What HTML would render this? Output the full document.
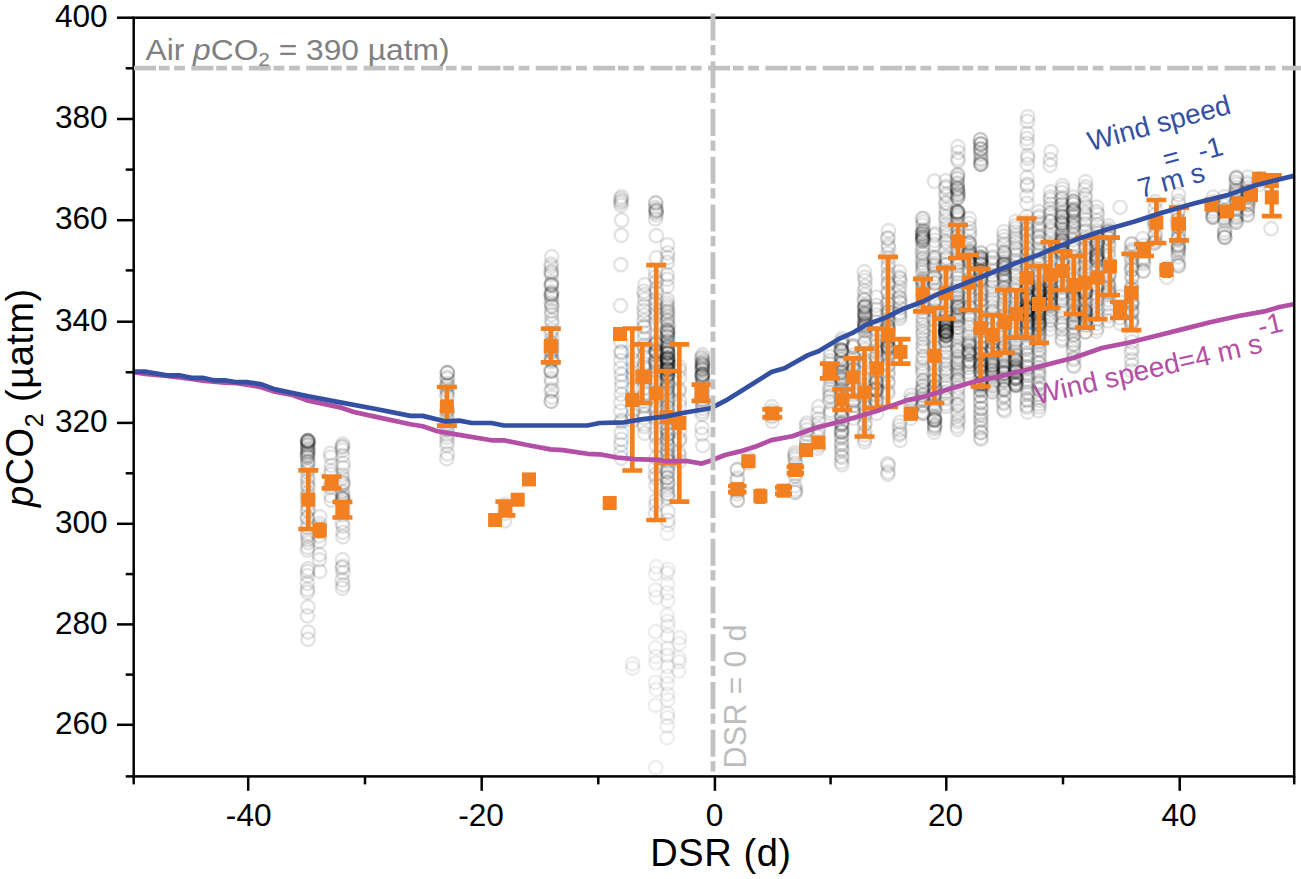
<!DOCTYPE html>
<html><head><meta charset="utf-8"><title>pCO2 vs DSR</title>
<style>html,body{margin:0;padding:0;background:#fff}svg{display:block}text{font-family:"Liberation Sans",Arial,sans-serif}</style></head><body>
<svg width="1301" height="879" viewBox="0 0 1301 879">
<rect width="1301" height="879" fill="#fff"/>
<g fill="none" stroke="#000" stroke-opacity="0.115" stroke-width="2.3">
<circle cx="307.5" cy="441.7" r="6.7"/>
<circle cx="307.5" cy="457.4" r="6.7"/>
<circle cx="307.3" cy="446.1" r="6.7"/>
<circle cx="308.2" cy="448.7" r="6.7"/>
<circle cx="307.9" cy="452.9" r="6.7"/>
<circle cx="307.3" cy="454.0" r="6.7"/>
<circle cx="307.3" cy="456.6" r="6.7"/>
<circle cx="307.4" cy="449.0" r="6.7"/>
<circle cx="307.8" cy="461.5" r="6.7"/>
<circle cx="307.8" cy="464.4" r="6.7"/>
<circle cx="308.0" cy="461.9" r="6.7"/>
<circle cx="307.8" cy="468.6" r="6.7"/>
<circle cx="307.4" cy="471.4" r="6.7"/>
<circle cx="307.9" cy="442.3" r="6.7"/>
<circle cx="307.8" cy="477.4" r="6.7"/>
<circle cx="307.7" cy="480.6" r="6.7"/>
<circle cx="308.2" cy="440.7" r="6.7"/>
<circle cx="307.5" cy="484.9" r="6.7"/>
<circle cx="308.1" cy="487.1" r="6.7"/>
<circle cx="307.8" cy="455.4" r="6.7"/>
<circle cx="307.7" cy="492.7" r="6.7"/>
<circle cx="307.3" cy="495.9" r="6.7"/>
<circle cx="307.8" cy="451.4" r="6.7"/>
<circle cx="307.6" cy="500.1" r="6.7"/>
<circle cx="307.7" cy="504.6" r="6.7"/>
<circle cx="307.8" cy="451.0" r="6.7"/>
<circle cx="308.1" cy="509.5" r="6.7"/>
<circle cx="307.6" cy="511.0" r="6.7"/>
<circle cx="307.8" cy="444.9" r="6.7"/>
<circle cx="307.3" cy="517.3" r="6.7"/>
<circle cx="307.5" cy="518.3" r="6.7"/>
<circle cx="308.0" cy="444.6" r="6.7"/>
<circle cx="307.9" cy="524.0" r="6.7"/>
<circle cx="307.7" cy="527.5" r="6.7"/>
<circle cx="308.0" cy="441.8" r="6.7"/>
<circle cx="307.6" cy="533.3" r="6.7"/>
<circle cx="307.6" cy="536.0" r="6.7"/>
<circle cx="307.5" cy="440.7" r="6.7"/>
<circle cx="308.0" cy="539.7" r="6.7"/>
<circle cx="308.2" cy="542.6" r="6.7"/>
<circle cx="307.8" cy="440.7" r="6.7"/>
<circle cx="307.7" cy="547.3" r="6.7"/>
<circle cx="307.4" cy="550.2" r="6.7"/>
<circle cx="308.0" cy="440.7" r="6.7"/>
<circle cx="308.0" cy="568.9" r="6.7"/>
<circle cx="307.5" cy="571.5" r="6.7"/>
<circle cx="307.4" cy="575.5" r="6.7"/>
<circle cx="307.3" cy="583.4" r="6.7"/>
<circle cx="307.5" cy="589.5" r="6.7"/>
<circle cx="307.4" cy="592.3" r="6.7"/>
<circle cx="307.9" cy="607.0" r="6.7"/>
<circle cx="307.4" cy="615.8" r="6.7"/>
<circle cx="308.2" cy="632.0" r="6.7"/>
<circle cx="308.0" cy="639.3" r="6.7"/>
<circle cx="319.8" cy="516.7" r="6.7"/>
<circle cx="319.6" cy="523.7" r="6.7"/>
<circle cx="319.3" cy="526.8" r="6.7"/>
<circle cx="319.4" cy="531.0" r="6.7"/>
<circle cx="319.1" cy="535.9" r="6.7"/>
<circle cx="319.3" cy="541.3" r="6.7"/>
<circle cx="319.5" cy="554.7" r="6.7"/>
<circle cx="319.4" cy="559.8" r="6.7"/>
<circle cx="319.8" cy="571.3" r="6.7"/>
<circle cx="330.6" cy="453.3" r="6.7"/>
<circle cx="330.9" cy="457.1" r="6.7"/>
<circle cx="331.4" cy="465.3" r="6.7"/>
<circle cx="331.0" cy="471.1" r="6.7"/>
<circle cx="331.0" cy="474.4" r="6.7"/>
<circle cx="331.0" cy="485.0" r="6.7"/>
<circle cx="330.6" cy="487.4" r="6.7"/>
<circle cx="331.2" cy="495.7" r="6.7"/>
<circle cx="331.2" cy="500.2" r="6.7"/>
<circle cx="342.8" cy="444.0" r="6.7"/>
<circle cx="342.4" cy="498.6" r="6.7"/>
<circle cx="342.3" cy="450.1" r="6.7"/>
<circle cx="342.6" cy="455.5" r="6.7"/>
<circle cx="342.3" cy="447.2" r="6.7"/>
<circle cx="343.1" cy="463.5" r="6.7"/>
<circle cx="342.9" cy="467.6" r="6.7"/>
<circle cx="342.9" cy="482.6" r="6.7"/>
<circle cx="342.3" cy="475.1" r="6.7"/>
<circle cx="342.4" cy="478.3" r="6.7"/>
<circle cx="342.4" cy="497.7" r="6.7"/>
<circle cx="342.8" cy="485.2" r="6.7"/>
<circle cx="342.5" cy="491.7" r="6.7"/>
<circle cx="343.0" cy="495.1" r="6.7"/>
<circle cx="343.0" cy="499.7" r="6.7"/>
<circle cx="342.3" cy="501.4" r="6.7"/>
<circle cx="342.3" cy="446.3" r="6.7"/>
<circle cx="343.0" cy="510.2" r="6.7"/>
<circle cx="342.6" cy="514.9" r="6.7"/>
<circle cx="342.7" cy="503.8" r="6.7"/>
<circle cx="342.2" cy="522.7" r="6.7"/>
<circle cx="343.0" cy="526.1" r="6.7"/>
<circle cx="342.6" cy="498.3" r="6.7"/>
<circle cx="342.9" cy="532.3" r="6.7"/>
<circle cx="342.9" cy="536.8" r="6.7"/>
<circle cx="343.1" cy="483.1" r="6.7"/>
<circle cx="342.5" cy="559.7" r="6.7"/>
<circle cx="342.8" cy="566.3" r="6.7"/>
<circle cx="342.2" cy="567.9" r="6.7"/>
<circle cx="343.0" cy="572.6" r="6.7"/>
<circle cx="342.2" cy="580.0" r="6.7"/>
<circle cx="343.1" cy="584.9" r="6.7"/>
<circle cx="342.4" cy="588.3" r="6.7"/>
<circle cx="447.4" cy="372.7" r="6.7"/>
<circle cx="447.0" cy="395.3" r="6.7"/>
<circle cx="446.9" cy="377.3" r="6.7"/>
<circle cx="447.4" cy="378.9" r="6.7"/>
<circle cx="446.6" cy="385.8" r="6.7"/>
<circle cx="447.4" cy="383.4" r="6.7"/>
<circle cx="447.4" cy="385.3" r="6.7"/>
<circle cx="447.4" cy="372.7" r="6.7"/>
<circle cx="446.7" cy="388.5" r="6.7"/>
<circle cx="447.4" cy="391.2" r="6.7"/>
<circle cx="447.3" cy="372.7" r="6.7"/>
<circle cx="447.3" cy="395.3" r="6.7"/>
<circle cx="447.1" cy="408.7" r="6.7"/>
<circle cx="446.6" cy="429.6" r="6.7"/>
<circle cx="446.8" cy="417.0" r="6.7"/>
<circle cx="447.3" cy="420.0" r="6.7"/>
<circle cx="447.0" cy="411.9" r="6.7"/>
<circle cx="447.3" cy="429.2" r="6.7"/>
<circle cx="447.0" cy="434.5" r="6.7"/>
<circle cx="447.0" cy="437.4" r="6.7"/>
<circle cx="447.0" cy="441.8" r="6.7"/>
<circle cx="447.0" cy="445.2" r="6.7"/>
<circle cx="447.5" cy="410.2" r="6.7"/>
<circle cx="447.4" cy="453.9" r="6.7"/>
<circle cx="446.8" cy="458.8" r="6.7"/>
<circle cx="447.4" cy="423.5" r="6.7"/>
<circle cx="504.7" cy="504.7" r="6.7"/>
<circle cx="504.6" cy="513.5" r="6.7"/>
<circle cx="504.6" cy="521.0" r="6.7"/>
<circle cx="551.7" cy="256.7" r="6.7"/>
<circle cx="551.1" cy="357.2" r="6.7"/>
<circle cx="551.1" cy="264.2" r="6.7"/>
<circle cx="551.2" cy="266.8" r="6.7"/>
<circle cx="551.4" cy="294.4" r="6.7"/>
<circle cx="551.3" cy="272.5" r="6.7"/>
<circle cx="551.3" cy="274.8" r="6.7"/>
<circle cx="551.3" cy="271.4" r="6.7"/>
<circle cx="551.7" cy="282.3" r="6.7"/>
<circle cx="551.5" cy="285.3" r="6.7"/>
<circle cx="551.1" cy="343.3" r="6.7"/>
<circle cx="551.2" cy="293.3" r="6.7"/>
<circle cx="551.1" cy="296.3" r="6.7"/>
<circle cx="551.3" cy="401.3" r="6.7"/>
<circle cx="551.2" cy="302.9" r="6.7"/>
<circle cx="551.8" cy="305.6" r="6.7"/>
<circle cx="551.9" cy="306.6" r="6.7"/>
<circle cx="551.5" cy="311.1" r="6.7"/>
<circle cx="551.5" cy="314.6" r="6.7"/>
<circle cx="551.3" cy="284.7" r="6.7"/>
<circle cx="551.8" cy="320.3" r="6.7"/>
<circle cx="551.9" cy="323.3" r="6.7"/>
<circle cx="551.1" cy="349.5" r="6.7"/>
<circle cx="551.6" cy="329.9" r="6.7"/>
<circle cx="551.2" cy="333.0" r="6.7"/>
<circle cx="551.1" cy="371.5" r="6.7"/>
<circle cx="552.0" cy="338.8" r="6.7"/>
<circle cx="551.9" cy="343.2" r="6.7"/>
<circle cx="551.7" cy="299.0" r="6.7"/>
<circle cx="551.9" cy="351.1" r="6.7"/>
<circle cx="551.2" cy="352.4" r="6.7"/>
<circle cx="551.9" cy="291.8" r="6.7"/>
<circle cx="551.5" cy="359.9" r="6.7"/>
<circle cx="551.4" cy="361.9" r="6.7"/>
<circle cx="551.8" cy="346.4" r="6.7"/>
<circle cx="551.0" cy="370.6" r="6.7"/>
<circle cx="551.5" cy="371.0" r="6.7"/>
<circle cx="552.0" cy="359.6" r="6.7"/>
<circle cx="551.2" cy="378.8" r="6.7"/>
<circle cx="551.6" cy="381.9" r="6.7"/>
<circle cx="551.5" cy="294.5" r="6.7"/>
<circle cx="552.0" cy="389.6" r="6.7"/>
<circle cx="551.2" cy="391.1" r="6.7"/>
<circle cx="551.2" cy="284.9" r="6.7"/>
<circle cx="551.9" cy="397.2" r="6.7"/>
<circle cx="551.1" cy="401.3" r="6.7"/>
<circle cx="621.6" cy="196.8" r="6.7"/>
<circle cx="620.6" cy="198.9" r="6.7"/>
<circle cx="621.5" cy="200.8" r="6.7"/>
<circle cx="620.7" cy="202.7" r="6.7"/>
<circle cx="621.0" cy="205.3" r="6.7"/>
<circle cx="621.6" cy="220.1" r="6.7"/>
<circle cx="621.3" cy="235.3" r="6.7"/>
<circle cx="620.8" cy="264.7" r="6.7"/>
<circle cx="620.6" cy="305.7" r="6.7"/>
<circle cx="620.9" cy="341.7" r="6.7"/>
<circle cx="620.9" cy="351.6" r="6.7"/>
<circle cx="621.5" cy="352.5" r="6.7"/>
<circle cx="620.8" cy="360.5" r="6.7"/>
<circle cx="620.7" cy="368.1" r="6.7"/>
<circle cx="621.3" cy="374.6" r="6.7"/>
<circle cx="621.4" cy="381.3" r="6.7"/>
<circle cx="621.4" cy="387.1" r="6.7"/>
<circle cx="621.2" cy="394.3" r="6.7"/>
<circle cx="620.9" cy="402.8" r="6.7"/>
<circle cx="620.7" cy="411.1" r="6.7"/>
<circle cx="621.5" cy="420.0" r="6.7"/>
<circle cx="621.5" cy="421.8" r="6.7"/>
<circle cx="621.2" cy="432.7" r="6.7"/>
<circle cx="621.3" cy="439.4" r="6.7"/>
<circle cx="620.9" cy="444.5" r="6.7"/>
<circle cx="620.8" cy="452.2" r="6.7"/>
<circle cx="621.3" cy="458.3" r="6.7"/>
<circle cx="632.6" cy="351.8" r="6.7"/>
<circle cx="632.7" cy="360.1" r="6.7"/>
<circle cx="633.0" cy="368.6" r="6.7"/>
<circle cx="633.0" cy="373.6" r="6.7"/>
<circle cx="632.9" cy="377.3" r="6.7"/>
<circle cx="632.9" cy="389.4" r="6.7"/>
<circle cx="632.9" cy="397.5" r="6.7"/>
<circle cx="632.3" cy="399.2" r="6.7"/>
<circle cx="633.2" cy="409.8" r="6.7"/>
<circle cx="632.7" cy="415.4" r="6.7"/>
<circle cx="632.2" cy="420.5" r="6.7"/>
<circle cx="644.8" cy="284.7" r="6.7"/>
<circle cx="643.9" cy="291.4" r="6.7"/>
<circle cx="644.6" cy="294.7" r="6.7"/>
<circle cx="644.6" cy="299.4" r="6.7"/>
<circle cx="644.1" cy="306.1" r="6.7"/>
<circle cx="644.1" cy="310.6" r="6.7"/>
<circle cx="644.3" cy="315.1" r="6.7"/>
<circle cx="643.9" cy="320.9" r="6.7"/>
<circle cx="644.1" cy="326.2" r="6.7"/>
<circle cx="644.5" cy="327.2" r="6.7"/>
<circle cx="644.4" cy="332.9" r="6.7"/>
<circle cx="644.5" cy="338.4" r="6.7"/>
<circle cx="644.4" cy="345.0" r="6.7"/>
<circle cx="644.3" cy="347.4" r="6.7"/>
<circle cx="644.8" cy="354.0" r="6.7"/>
<circle cx="644.0" cy="357.2" r="6.7"/>
<circle cx="644.5" cy="363.9" r="6.7"/>
<circle cx="644.3" cy="367.9" r="6.7"/>
<circle cx="644.8" cy="375.1" r="6.7"/>
<circle cx="644.1" cy="379.0" r="6.7"/>
<circle cx="644.3" cy="381.9" r="6.7"/>
<circle cx="643.9" cy="387.8" r="6.7"/>
<circle cx="644.8" cy="393.7" r="6.7"/>
<circle cx="644.2" cy="400.8" r="6.7"/>
<circle cx="644.8" cy="405.5" r="6.7"/>
<circle cx="643.9" cy="406.6" r="6.7"/>
<circle cx="644.1" cy="414.6" r="6.7"/>
<circle cx="644.4" cy="417.8" r="6.7"/>
<circle cx="644.1" cy="424.0" r="6.7"/>
<circle cx="644.2" cy="426.6" r="6.7"/>
<circle cx="644.7" cy="433.3" r="6.7"/>
<circle cx="655.7" cy="202.7" r="6.7"/>
<circle cx="656.2" cy="211.2" r="6.7"/>
<circle cx="655.5" cy="207.5" r="6.7"/>
<circle cx="656.1" cy="209.8" r="6.7"/>
<circle cx="656.3" cy="210.4" r="6.7"/>
<circle cx="655.8" cy="212.7" r="6.7"/>
<circle cx="656.4" cy="214.9" r="6.7"/>
<circle cx="655.9" cy="203.2" r="6.7"/>
<circle cx="655.5" cy="218.9" r="6.7"/>
<circle cx="656.3" cy="235.7" r="6.7"/>
<circle cx="656.4" cy="257.7" r="6.7"/>
<circle cx="655.7" cy="271.7" r="6.7"/>
<circle cx="655.6" cy="276.9" r="6.7"/>
<circle cx="656.4" cy="281.5" r="6.7"/>
<circle cx="656.2" cy="288.9" r="6.7"/>
<circle cx="656.3" cy="292.9" r="6.7"/>
<circle cx="656.0" cy="299.5" r="6.7"/>
<circle cx="655.5" cy="303.6" r="6.7"/>
<circle cx="655.9" cy="308.9" r="6.7"/>
<circle cx="656.1" cy="314.1" r="6.7"/>
<circle cx="655.5" cy="317.2" r="6.7"/>
<circle cx="655.6" cy="323.3" r="6.7"/>
<circle cx="655.9" cy="336.7" r="6.7"/>
<circle cx="656.1" cy="351.6" r="6.7"/>
<circle cx="656.1" cy="341.7" r="6.7"/>
<circle cx="655.9" cy="344.6" r="6.7"/>
<circle cx="655.9" cy="363.3" r="6.7"/>
<circle cx="656.2" cy="351.4" r="6.7"/>
<circle cx="656.0" cy="354.6" r="6.7"/>
<circle cx="655.7" cy="343.6" r="6.7"/>
<circle cx="656.0" cy="360.0" r="6.7"/>
<circle cx="655.8" cy="363.4" r="6.7"/>
<circle cx="655.4" cy="360.5" r="6.7"/>
<circle cx="655.8" cy="370.9" r="6.7"/>
<circle cx="655.6" cy="373.6" r="6.7"/>
<circle cx="655.7" cy="350.1" r="6.7"/>
<circle cx="655.9" cy="379.7" r="6.7"/>
<circle cx="655.8" cy="382.2" r="6.7"/>
<circle cx="656.2" cy="351.9" r="6.7"/>
<circle cx="655.5" cy="389.0" r="6.7"/>
<circle cx="655.8" cy="392.2" r="6.7"/>
<circle cx="656.1" cy="344.1" r="6.7"/>
<circle cx="655.7" cy="397.0" r="6.7"/>
<circle cx="656.4" cy="401.0" r="6.7"/>
<circle cx="656.2" cy="366.3" r="6.7"/>
<circle cx="656.4" cy="407.0" r="6.7"/>
<circle cx="655.5" cy="409.2" r="6.7"/>
<circle cx="656.4" cy="366.6" r="6.7"/>
<circle cx="656.0" cy="416.4" r="6.7"/>
<circle cx="655.9" cy="418.2" r="6.7"/>
<circle cx="655.6" cy="433.7" r="6.7"/>
<circle cx="656.4" cy="437.4" r="6.7"/>
<circle cx="656.3" cy="445.2" r="6.7"/>
<circle cx="656.3" cy="457.6" r="6.7"/>
<circle cx="655.5" cy="467.2" r="6.7"/>
<circle cx="655.4" cy="474.5" r="6.7"/>
<circle cx="656.0" cy="478.0" r="6.7"/>
<circle cx="656.1" cy="485.5" r="6.7"/>
<circle cx="656.1" cy="500.3" r="6.7"/>
<circle cx="655.9" cy="505.3" r="6.7"/>
<circle cx="655.5" cy="513.3" r="6.7"/>
<circle cx="667.5" cy="244.7" r="6.7"/>
<circle cx="667.7" cy="252.9" r="6.7"/>
<circle cx="667.4" cy="257.7" r="6.7"/>
<circle cx="667.3" cy="262.4" r="6.7"/>
<circle cx="667.1" cy="274.6" r="6.7"/>
<circle cx="667.2" cy="279.3" r="6.7"/>
<circle cx="667.2" cy="286.3" r="6.7"/>
<circle cx="667.4" cy="299.7" r="6.7"/>
<circle cx="667.2" cy="341.4" r="6.7"/>
<circle cx="667.2" cy="303.1" r="6.7"/>
<circle cx="667.2" cy="305.9" r="6.7"/>
<circle cx="667.1" cy="329.7" r="6.7"/>
<circle cx="667.4" cy="308.0" r="6.7"/>
<circle cx="667.9" cy="311.2" r="6.7"/>
<circle cx="668.0" cy="353.2" r="6.7"/>
<circle cx="667.2" cy="313.9" r="6.7"/>
<circle cx="667.8" cy="316.7" r="6.7"/>
<circle cx="667.1" cy="311.4" r="6.7"/>
<circle cx="667.4" cy="319.8" r="6.7"/>
<circle cx="667.4" cy="321.2" r="6.7"/>
<circle cx="667.3" cy="358.8" r="6.7"/>
<circle cx="668.0" cy="324.7" r="6.7"/>
<circle cx="668.0" cy="326.2" r="6.7"/>
<circle cx="667.2" cy="359.2" r="6.7"/>
<circle cx="667.9" cy="330.2" r="6.7"/>
<circle cx="667.5" cy="332.7" r="6.7"/>
<circle cx="667.4" cy="373.0" r="6.7"/>
<circle cx="667.2" cy="336.5" r="6.7"/>
<circle cx="667.9" cy="337.4" r="6.7"/>
<circle cx="667.1" cy="363.0" r="6.7"/>
<circle cx="667.8" cy="341.1" r="6.7"/>
<circle cx="667.1" cy="343.5" r="6.7"/>
<circle cx="668.0" cy="363.1" r="6.7"/>
<circle cx="667.8" cy="346.2" r="6.7"/>
<circle cx="667.4" cy="349.1" r="6.7"/>
<circle cx="667.3" cy="359.3" r="6.7"/>
<circle cx="667.6" cy="352.8" r="6.7"/>
<circle cx="667.7" cy="353.5" r="6.7"/>
<circle cx="667.0" cy="353.8" r="6.7"/>
<circle cx="667.9" cy="357.9" r="6.7"/>
<circle cx="668.0" cy="359.5" r="6.7"/>
<circle cx="667.1" cy="368.3" r="6.7"/>
<circle cx="667.5" cy="362.5" r="6.7"/>
<circle cx="668.0" cy="365.4" r="6.7"/>
<circle cx="667.5" cy="350.4" r="6.7"/>
<circle cx="668.0" cy="368.3" r="6.7"/>
<circle cx="667.8" cy="369.6" r="6.7"/>
<circle cx="667.8" cy="365.0" r="6.7"/>
<circle cx="667.8" cy="374.2" r="6.7"/>
<circle cx="667.4" cy="375.7" r="6.7"/>
<circle cx="667.8" cy="352.8" r="6.7"/>
<circle cx="667.2" cy="378.5" r="6.7"/>
<circle cx="667.3" cy="381.4" r="6.7"/>
<circle cx="667.1" cy="370.0" r="6.7"/>
<circle cx="667.6" cy="383.8" r="6.7"/>
<circle cx="668.0" cy="386.1" r="6.7"/>
<circle cx="667.3" cy="388.3" r="6.7"/>
<circle cx="667.1" cy="389.3" r="6.7"/>
<circle cx="667.7" cy="391.8" r="6.7"/>
<circle cx="667.5" cy="331.2" r="6.7"/>
<circle cx="667.4" cy="395.0" r="6.7"/>
<circle cx="667.7" cy="397.4" r="6.7"/>
<circle cx="667.7" cy="357.9" r="6.7"/>
<circle cx="667.9" cy="400.2" r="6.7"/>
<circle cx="667.6" cy="402.3" r="6.7"/>
<circle cx="667.4" cy="331.9" r="6.7"/>
<circle cx="667.2" cy="406.6" r="6.7"/>
<circle cx="667.3" cy="407.6" r="6.7"/>
<circle cx="667.6" cy="374.4" r="6.7"/>
<circle cx="667.4" cy="411.4" r="6.7"/>
<circle cx="667.5" cy="414.2" r="6.7"/>
<circle cx="667.3" cy="381.5" r="6.7"/>
<circle cx="667.7" cy="417.6" r="6.7"/>
<circle cx="667.1" cy="419.7" r="6.7"/>
<circle cx="667.9" cy="333.4" r="6.7"/>
<circle cx="667.1" cy="423.1" r="6.7"/>
<circle cx="667.1" cy="423.9" r="6.7"/>
<circle cx="667.2" cy="362.2" r="6.7"/>
<circle cx="667.6" cy="428.7" r="6.7"/>
<circle cx="667.4" cy="430.4" r="6.7"/>
<circle cx="667.3" cy="368.2" r="6.7"/>
<circle cx="668.0" cy="433.8" r="6.7"/>
<circle cx="667.6" cy="434.5" r="6.7"/>
<circle cx="667.6" cy="347.2" r="6.7"/>
<circle cx="667.4" cy="438.3" r="6.7"/>
<circle cx="667.2" cy="439.9" r="6.7"/>
<circle cx="667.7" cy="357.7" r="6.7"/>
<circle cx="667.0" cy="443.7" r="6.7"/>
<circle cx="667.7" cy="445.7" r="6.7"/>
<circle cx="667.2" cy="376.7" r="6.7"/>
<circle cx="667.2" cy="449.2" r="6.7"/>
<circle cx="667.6" cy="451.8" r="6.7"/>
<circle cx="667.4" cy="364.1" r="6.7"/>
<circle cx="667.7" cy="455.1" r="6.7"/>
<circle cx="667.2" cy="456.1" r="6.7"/>
<circle cx="667.7" cy="360.7" r="6.7"/>
<circle cx="667.3" cy="460.2" r="6.7"/>
<circle cx="668.0" cy="461.9" r="6.7"/>
<circle cx="667.4" cy="351.6" r="6.7"/>
<circle cx="667.9" cy="465.7" r="6.7"/>
<circle cx="667.4" cy="468.4" r="6.7"/>
<circle cx="667.2" cy="374.5" r="6.7"/>
<circle cx="667.2" cy="471.6" r="6.7"/>
<circle cx="667.9" cy="472.2" r="6.7"/>
<circle cx="667.4" cy="335.9" r="6.7"/>
<circle cx="667.5" cy="477.3" r="6.7"/>
<circle cx="667.0" cy="477.9" r="6.7"/>
<circle cx="667.6" cy="369.9" r="6.7"/>
<circle cx="667.9" cy="482.3" r="6.7"/>
<circle cx="667.7" cy="483.2" r="6.7"/>
<circle cx="667.2" cy="347.2" r="6.7"/>
<circle cx="667.6" cy="487.1" r="6.7"/>
<circle cx="667.1" cy="490.0" r="6.7"/>
<circle cx="667.5" cy="370.0" r="6.7"/>
<circle cx="668.0" cy="493.4" r="6.7"/>
<circle cx="667.2" cy="494.2" r="6.7"/>
<circle cx="667.5" cy="393.0" r="6.7"/>
<circle cx="668.0" cy="497.6" r="6.7"/>
<circle cx="667.9" cy="511.7" r="6.7"/>
<circle cx="667.9" cy="520.4" r="6.7"/>
<circle cx="679.1" cy="366.7" r="6.7"/>
<circle cx="679.3" cy="370.7" r="6.7"/>
<circle cx="679.4" cy="377.9" r="6.7"/>
<circle cx="679.1" cy="389.1" r="6.7"/>
<circle cx="679.1" cy="391.5" r="6.7"/>
<circle cx="679.6" cy="400.4" r="6.7"/>
<circle cx="679.5" cy="405.8" r="6.7"/>
<circle cx="679.4" cy="418.1" r="6.7"/>
<circle cx="678.8" cy="423.9" r="6.7"/>
<circle cx="679.1" cy="431.8" r="6.7"/>
<circle cx="679.6" cy="438.6" r="6.7"/>
<circle cx="679.4" cy="440.5" r="6.7"/>
<circle cx="678.7" cy="452.2" r="6.7"/>
<circle cx="679.4" cy="455.5" r="6.7"/>
<circle cx="679.5" cy="461.2" r="6.7"/>
<circle cx="702.6" cy="354.7" r="6.7"/>
<circle cx="702.1" cy="363.1" r="6.7"/>
<circle cx="701.9" cy="358.5" r="6.7"/>
<circle cx="702.8" cy="360.4" r="6.7"/>
<circle cx="702.5" cy="365.9" r="6.7"/>
<circle cx="702.1" cy="363.8" r="6.7"/>
<circle cx="702.7" cy="365.0" r="6.7"/>
<circle cx="702.6" cy="374.3" r="6.7"/>
<circle cx="702.2" cy="368.1" r="6.7"/>
<circle cx="702.0" cy="369.8" r="6.7"/>
<circle cx="702.1" cy="376.5" r="6.7"/>
<circle cx="702.8" cy="373.6" r="6.7"/>
<circle cx="702.4" cy="374.8" r="6.7"/>
<circle cx="702.2" cy="374.4" r="6.7"/>
<circle cx="702.7" cy="379.3" r="6.7"/>
<circle cx="702.7" cy="380.9" r="6.7"/>
<circle cx="702.1" cy="376.8" r="6.7"/>
<circle cx="702.5" cy="383.3" r="6.7"/>
<circle cx="702.2" cy="385.2" r="6.7"/>
<circle cx="701.9" cy="357.1" r="6.7"/>
<circle cx="702.5" cy="388.7" r="6.7"/>
<circle cx="701.9" cy="389.8" r="6.7"/>
<circle cx="702.4" cy="370.1" r="6.7"/>
<circle cx="702.3" cy="393.9" r="6.7"/>
<circle cx="702.0" cy="395.3" r="6.7"/>
<circle cx="702.2" cy="368.3" r="6.7"/>
<circle cx="702.0" cy="399.5" r="6.7"/>
<circle cx="702.6" cy="399.9" r="6.7"/>
<circle cx="701.9" cy="375.5" r="6.7"/>
<circle cx="702.5" cy="403.5" r="6.7"/>
<circle cx="702.7" cy="405.4" r="6.7"/>
<circle cx="702.8" cy="362.2" r="6.7"/>
<circle cx="702.7" cy="408.5" r="6.7"/>
<circle cx="702.4" cy="411.5" r="6.7"/>
<circle cx="702.4" cy="365.5" r="6.7"/>
<circle cx="702.0" cy="414.3" r="6.7"/>
<circle cx="701.9" cy="427.7" r="6.7"/>
<circle cx="702.0" cy="434.2" r="6.7"/>
<circle cx="702.8" cy="445.5" r="6.7"/>
<circle cx="737.3" cy="469.7" r="6.7"/>
<circle cx="737.2" cy="493.9" r="6.7"/>
<circle cx="737.5" cy="477.9" r="6.7"/>
<circle cx="737.0" cy="480.0" r="6.7"/>
<circle cx="737.5" cy="469.7" r="6.7"/>
<circle cx="737.4" cy="489.8" r="6.7"/>
<circle cx="737.5" cy="490.9" r="6.7"/>
<circle cx="737.4" cy="500.3" r="6.7"/>
<circle cx="737.4" cy="500.2" r="6.7"/>
<circle cx="748.5" cy="458.7" r="6.7"/>
<circle cx="748.5" cy="462.8" r="6.7"/>
<circle cx="771.8" cy="406.7" r="6.7"/>
<circle cx="772.2" cy="411.1" r="6.7"/>
<circle cx="772.2" cy="415.1" r="6.7"/>
<circle cx="772.0" cy="416.9" r="6.7"/>
<circle cx="772.3" cy="421.1" r="6.7"/>
<circle cx="794.9" cy="452.9" r="6.7"/>
<circle cx="794.9" cy="492.3" r="6.7"/>
<circle cx="795.3" cy="459.4" r="6.7"/>
<circle cx="795.5" cy="463.4" r="6.7"/>
<circle cx="795.6" cy="492.3" r="6.7"/>
<circle cx="795.5" cy="473.7" r="6.7"/>
<circle cx="795.2" cy="476.2" r="6.7"/>
<circle cx="794.7" cy="457.1" r="6.7"/>
<circle cx="794.9" cy="485.8" r="6.7"/>
<circle cx="795.5" cy="489.6" r="6.7"/>
<circle cx="795.1" cy="455.0" r="6.7"/>
<circle cx="806.9" cy="423.0" r="6.7"/>
<circle cx="806.3" cy="425.8" r="6.7"/>
<circle cx="806.9" cy="429.8" r="6.7"/>
<circle cx="807.3" cy="434.3" r="6.7"/>
<circle cx="806.3" cy="440.5" r="6.7"/>
<circle cx="806.9" cy="442.7" r="6.7"/>
<circle cx="806.4" cy="446.7" r="6.7"/>
<circle cx="818.8" cy="406.7" r="6.7"/>
<circle cx="818.1" cy="413.1" r="6.7"/>
<circle cx="818.4" cy="419.1" r="6.7"/>
<circle cx="818.8" cy="423.0" r="6.7"/>
<circle cx="818.6" cy="428.7" r="6.7"/>
<circle cx="818.1" cy="432.2" r="6.7"/>
<circle cx="817.9" cy="436.6" r="6.7"/>
<circle cx="818.8" cy="445.1" r="6.7"/>
<circle cx="818.0" cy="448.3" r="6.7"/>
<circle cx="830.4" cy="351.7" r="6.7"/>
<circle cx="830.4" cy="379.8" r="6.7"/>
<circle cx="830.1" cy="360.9" r="6.7"/>
<circle cx="829.8" cy="363.9" r="6.7"/>
<circle cx="830.2" cy="395.6" r="6.7"/>
<circle cx="829.5" cy="373.3" r="6.7"/>
<circle cx="829.6" cy="376.4" r="6.7"/>
<circle cx="830.1" cy="369.9" r="6.7"/>
<circle cx="830.3" cy="385.3" r="6.7"/>
<circle cx="829.8" cy="388.9" r="6.7"/>
<circle cx="829.9" cy="392.0" r="6.7"/>
<circle cx="829.8" cy="397.0" r="6.7"/>
<circle cx="829.6" cy="401.9" r="6.7"/>
<circle cx="830.2" cy="356.7" r="6.7"/>
<circle cx="830.5" cy="410.4" r="6.7"/>
<circle cx="830.5" cy="413.3" r="6.7"/>
<circle cx="841.9" cy="338.7" r="6.7"/>
<circle cx="841.8" cy="377.7" r="6.7"/>
<circle cx="841.7" cy="343.7" r="6.7"/>
<circle cx="841.5" cy="345.0" r="6.7"/>
<circle cx="841.2" cy="349.5" r="6.7"/>
<circle cx="841.1" cy="350.5" r="6.7"/>
<circle cx="841.4" cy="351.3" r="6.7"/>
<circle cx="842.0" cy="367.1" r="6.7"/>
<circle cx="841.5" cy="356.3" r="6.7"/>
<circle cx="841.3" cy="359.3" r="6.7"/>
<circle cx="841.9" cy="416.0" r="6.7"/>
<circle cx="841.8" cy="363.4" r="6.7"/>
<circle cx="841.4" cy="364.8" r="6.7"/>
<circle cx="841.3" cy="377.2" r="6.7"/>
<circle cx="841.8" cy="370.2" r="6.7"/>
<circle cx="841.3" cy="372.2" r="6.7"/>
<circle cx="841.7" cy="350.3" r="6.7"/>
<circle cx="841.6" cy="375.4" r="6.7"/>
<circle cx="841.3" cy="379.1" r="6.7"/>
<circle cx="841.3" cy="359.9" r="6.7"/>
<circle cx="841.8" cy="382.3" r="6.7"/>
<circle cx="841.3" cy="385.6" r="6.7"/>
<circle cx="841.4" cy="432.1" r="6.7"/>
<circle cx="841.3" cy="389.3" r="6.7"/>
<circle cx="841.3" cy="391.2" r="6.7"/>
<circle cx="842.1" cy="379.7" r="6.7"/>
<circle cx="841.2" cy="396.4" r="6.7"/>
<circle cx="841.2" cy="399.0" r="6.7"/>
<circle cx="841.9" cy="342.9" r="6.7"/>
<circle cx="841.5" cy="403.0" r="6.7"/>
<circle cx="841.7" cy="404.1" r="6.7"/>
<circle cx="841.2" cy="373.9" r="6.7"/>
<circle cx="841.5" cy="408.5" r="6.7"/>
<circle cx="841.5" cy="410.4" r="6.7"/>
<circle cx="841.6" cy="431.9" r="6.7"/>
<circle cx="841.6" cy="416.0" r="6.7"/>
<circle cx="841.7" cy="417.2" r="6.7"/>
<circle cx="841.5" cy="363.4" r="6.7"/>
<circle cx="842.0" cy="422.8" r="6.7"/>
<circle cx="841.7" cy="424.4" r="6.7"/>
<circle cx="841.3" cy="371.9" r="6.7"/>
<circle cx="842.0" cy="429.3" r="6.7"/>
<circle cx="841.8" cy="431.6" r="6.7"/>
<circle cx="842.0" cy="341.1" r="6.7"/>
<circle cx="841.7" cy="435.9" r="6.7"/>
<circle cx="841.4" cy="437.6" r="6.7"/>
<circle cx="841.5" cy="424.8" r="6.7"/>
<circle cx="841.8" cy="442.7" r="6.7"/>
<circle cx="841.4" cy="444.6" r="6.7"/>
<circle cx="841.5" cy="372.4" r="6.7"/>
<circle cx="841.7" cy="448.6" r="6.7"/>
<circle cx="841.8" cy="450.7" r="6.7"/>
<circle cx="841.8" cy="379.8" r="6.7"/>
<circle cx="841.5" cy="455.9" r="6.7"/>
<circle cx="842.1" cy="457.5" r="6.7"/>
<circle cx="841.1" cy="349.7" r="6.7"/>
<circle cx="841.3" cy="462.0" r="6.7"/>
<circle cx="842.0" cy="464.7" r="6.7"/>
<circle cx="841.7" cy="423.4" r="6.7"/>
<circle cx="852.9" cy="347.5" r="6.7"/>
<circle cx="853.2" cy="346.2" r="6.7"/>
<circle cx="853.4" cy="355.1" r="6.7"/>
<circle cx="853.3" cy="357.9" r="6.7"/>
<circle cx="852.8" cy="360.8" r="6.7"/>
<circle cx="853.6" cy="363.8" r="6.7"/>
<circle cx="853.4" cy="369.7" r="6.7"/>
<circle cx="853.3" cy="410.5" r="6.7"/>
<circle cx="853.0" cy="375.7" r="6.7"/>
<circle cx="853.7" cy="380.7" r="6.7"/>
<circle cx="853.7" cy="400.9" r="6.7"/>
<circle cx="852.9" cy="388.8" r="6.7"/>
<circle cx="852.8" cy="394.4" r="6.7"/>
<circle cx="853.5" cy="345.7" r="6.7"/>
<circle cx="853.4" cy="399.6" r="6.7"/>
<circle cx="853.5" cy="405.4" r="6.7"/>
<circle cx="853.5" cy="369.8" r="6.7"/>
<circle cx="853.1" cy="413.5" r="6.7"/>
<circle cx="853.5" cy="418.2" r="6.7"/>
<circle cx="853.4" cy="412.4" r="6.7"/>
<circle cx="864.3" cy="271.7" r="6.7"/>
<circle cx="864.6" cy="316.3" r="6.7"/>
<circle cx="864.8" cy="277.2" r="6.7"/>
<circle cx="865.0" cy="280.5" r="6.7"/>
<circle cx="865.0" cy="310.4" r="6.7"/>
<circle cx="865.2" cy="286.4" r="6.7"/>
<circle cx="864.4" cy="290.7" r="6.7"/>
<circle cx="865.1" cy="326.8" r="6.7"/>
<circle cx="865.1" cy="294.8" r="6.7"/>
<circle cx="864.3" cy="299.2" r="6.7"/>
<circle cx="864.3" cy="300.3" r="6.7"/>
<circle cx="865.0" cy="306.0" r="6.7"/>
<circle cx="864.4" cy="307.2" r="6.7"/>
<circle cx="865.1" cy="321.7" r="6.7"/>
<circle cx="864.5" cy="313.4" r="6.7"/>
<circle cx="865.1" cy="317.9" r="6.7"/>
<circle cx="864.5" cy="322.7" r="6.7"/>
<circle cx="864.9" cy="323.9" r="6.7"/>
<circle cx="865.0" cy="326.6" r="6.7"/>
<circle cx="865.2" cy="330.1" r="6.7"/>
<circle cx="865.0" cy="331.1" r="6.7"/>
<circle cx="865.1" cy="335.0" r="6.7"/>
<circle cx="864.8" cy="307.8" r="6.7"/>
<circle cx="864.9" cy="342.0" r="6.7"/>
<circle cx="864.5" cy="343.3" r="6.7"/>
<circle cx="864.4" cy="324.3" r="6.7"/>
<circle cx="864.5" cy="349.9" r="6.7"/>
<circle cx="864.8" cy="353.0" r="6.7"/>
<circle cx="864.9" cy="325.7" r="6.7"/>
<circle cx="864.3" cy="360.0" r="6.7"/>
<circle cx="864.8" cy="362.9" r="6.7"/>
<circle cx="865.2" cy="305.3" r="6.7"/>
<circle cx="864.7" cy="367.7" r="6.7"/>
<circle cx="864.4" cy="372.3" r="6.7"/>
<circle cx="865.0" cy="312.5" r="6.7"/>
<circle cx="864.3" cy="377.4" r="6.7"/>
<circle cx="865.0" cy="380.4" r="6.7"/>
<circle cx="865.3" cy="324.9" r="6.7"/>
<circle cx="864.8" cy="386.1" r="6.7"/>
<circle cx="864.3" cy="390.2" r="6.7"/>
<circle cx="865.0" cy="314.2" r="6.7"/>
<circle cx="864.7" cy="395.5" r="6.7"/>
<circle cx="864.7" cy="399.1" r="6.7"/>
<circle cx="865.1" cy="306.7" r="6.7"/>
<circle cx="864.8" cy="403.4" r="6.7"/>
<circle cx="864.9" cy="407.0" r="6.7"/>
<circle cx="865.1" cy="319.3" r="6.7"/>
<circle cx="865.1" cy="412.6" r="6.7"/>
<circle cx="864.8" cy="415.9" r="6.7"/>
<circle cx="865.3" cy="316.1" r="6.7"/>
<circle cx="865.1" cy="422.6" r="6.7"/>
<circle cx="864.6" cy="424.8" r="6.7"/>
<circle cx="864.6" cy="328.2" r="6.7"/>
<circle cx="864.9" cy="431.5" r="6.7"/>
<circle cx="864.4" cy="435.0" r="6.7"/>
<circle cx="864.9" cy="314.4" r="6.7"/>
<circle cx="864.6" cy="439.1" r="6.7"/>
<circle cx="864.5" cy="442.0" r="6.7"/>
<circle cx="876.6" cy="297.2" r="6.7"/>
<circle cx="876.5" cy="361.5" r="6.7"/>
<circle cx="876.1" cy="305.4" r="6.7"/>
<circle cx="876.4" cy="309.4" r="6.7"/>
<circle cx="876.1" cy="389.2" r="6.7"/>
<circle cx="876.7" cy="315.1" r="6.7"/>
<circle cx="876.6" cy="322.3" r="6.7"/>
<circle cx="876.3" cy="382.6" r="6.7"/>
<circle cx="876.7" cy="330.0" r="6.7"/>
<circle cx="876.2" cy="333.1" r="6.7"/>
<circle cx="876.2" cy="384.2" r="6.7"/>
<circle cx="876.6" cy="340.7" r="6.7"/>
<circle cx="876.0" cy="346.5" r="6.7"/>
<circle cx="876.5" cy="401.9" r="6.7"/>
<circle cx="876.0" cy="351.3" r="6.7"/>
<circle cx="876.5" cy="358.1" r="6.7"/>
<circle cx="875.9" cy="401.3" r="6.7"/>
<circle cx="876.5" cy="364.6" r="6.7"/>
<circle cx="876.9" cy="370.6" r="6.7"/>
<circle cx="876.4" cy="381.6" r="6.7"/>
<circle cx="876.0" cy="376.8" r="6.7"/>
<circle cx="876.1" cy="381.7" r="6.7"/>
<circle cx="875.9" cy="390.1" r="6.7"/>
<circle cx="876.0" cy="389.8" r="6.7"/>
<circle cx="876.0" cy="394.9" r="6.7"/>
<circle cx="876.8" cy="390.6" r="6.7"/>
<circle cx="875.9" cy="399.9" r="6.7"/>
<circle cx="876.2" cy="406.0" r="6.7"/>
<circle cx="876.0" cy="387.8" r="6.7"/>
<circle cx="876.6" cy="413.3" r="6.7"/>
<circle cx="888.5" cy="230.7" r="6.7"/>
<circle cx="887.8" cy="325.4" r="6.7"/>
<circle cx="888.2" cy="238.0" r="6.7"/>
<circle cx="887.5" cy="238.4" r="6.7"/>
<circle cx="887.6" cy="342.2" r="6.7"/>
<circle cx="888.3" cy="245.2" r="6.7"/>
<circle cx="888.4" cy="247.9" r="6.7"/>
<circle cx="888.0" cy="315.4" r="6.7"/>
<circle cx="887.9" cy="253.6" r="6.7"/>
<circle cx="888.0" cy="258.0" r="6.7"/>
<circle cx="888.3" cy="347.7" r="6.7"/>
<circle cx="888.2" cy="263.5" r="6.7"/>
<circle cx="887.9" cy="267.2" r="6.7"/>
<circle cx="887.9" cy="327.1" r="6.7"/>
<circle cx="888.5" cy="273.6" r="6.7"/>
<circle cx="888.1" cy="276.6" r="6.7"/>
<circle cx="888.5" cy="348.7" r="6.7"/>
<circle cx="888.4" cy="282.4" r="6.7"/>
<circle cx="888.1" cy="284.4" r="6.7"/>
<circle cx="888.5" cy="336.9" r="6.7"/>
<circle cx="888.1" cy="291.8" r="6.7"/>
<circle cx="888.0" cy="293.4" r="6.7"/>
<circle cx="888.2" cy="354.3" r="6.7"/>
<circle cx="888.4" cy="300.2" r="6.7"/>
<circle cx="887.8" cy="303.8" r="6.7"/>
<circle cx="887.5" cy="325.6" r="6.7"/>
<circle cx="887.9" cy="308.3" r="6.7"/>
<circle cx="888.3" cy="312.2" r="6.7"/>
<circle cx="888.4" cy="350.8" r="6.7"/>
<circle cx="888.4" cy="318.9" r="6.7"/>
<circle cx="887.8" cy="321.2" r="6.7"/>
<circle cx="888.4" cy="330.7" r="6.7"/>
<circle cx="888.2" cy="327.9" r="6.7"/>
<circle cx="887.9" cy="331.2" r="6.7"/>
<circle cx="888.3" cy="356.6" r="6.7"/>
<circle cx="888.3" cy="335.3" r="6.7"/>
<circle cx="887.8" cy="340.3" r="6.7"/>
<circle cx="888.1" cy="340.5" r="6.7"/>
<circle cx="888.0" cy="345.6" r="6.7"/>
<circle cx="887.8" cy="347.3" r="6.7"/>
<circle cx="888.0" cy="349.4" r="6.7"/>
<circle cx="888.3" cy="353.0" r="6.7"/>
<circle cx="887.8" cy="357.9" r="6.7"/>
<circle cx="888.1" cy="312.2" r="6.7"/>
<circle cx="888.4" cy="364.3" r="6.7"/>
<circle cx="888.0" cy="366.3" r="6.7"/>
<circle cx="887.7" cy="345.7" r="6.7"/>
<circle cx="888.2" cy="371.4" r="6.7"/>
<circle cx="888.1" cy="374.9" r="6.7"/>
<circle cx="887.9" cy="328.9" r="6.7"/>
<circle cx="887.7" cy="381.3" r="6.7"/>
<circle cx="888.5" cy="383.0" r="6.7"/>
<circle cx="888.2" cy="347.1" r="6.7"/>
<circle cx="887.7" cy="391.1" r="6.7"/>
<circle cx="887.9" cy="393.3" r="6.7"/>
<circle cx="887.5" cy="463.8" r="6.7"/>
<circle cx="888.5" cy="465.6" r="6.7"/>
<circle cx="888.0" cy="472.1" r="6.7"/>
<circle cx="887.8" cy="474.3" r="6.7"/>
<circle cx="899.3" cy="271.7" r="6.7"/>
<circle cx="899.3" cy="312.4" r="6.7"/>
<circle cx="899.2" cy="277.2" r="6.7"/>
<circle cx="900.0" cy="282.1" r="6.7"/>
<circle cx="900.0" cy="278.8" r="6.7"/>
<circle cx="899.7" cy="287.3" r="6.7"/>
<circle cx="899.2" cy="291.8" r="6.7"/>
<circle cx="900.1" cy="316.1" r="6.7"/>
<circle cx="899.7" cy="298.1" r="6.7"/>
<circle cx="900.1" cy="302.7" r="6.7"/>
<circle cx="899.6" cy="302.2" r="6.7"/>
<circle cx="900.1" cy="308.0" r="6.7"/>
<circle cx="899.4" cy="314.0" r="6.7"/>
<circle cx="899.2" cy="297.2" r="6.7"/>
<circle cx="899.5" cy="318.5" r="6.7"/>
<circle cx="900.0" cy="422.1" r="6.7"/>
<circle cx="899.2" cy="425.8" r="6.7"/>
<circle cx="899.8" cy="429.6" r="6.7"/>
<circle cx="900.1" cy="433.0" r="6.7"/>
<circle cx="899.3" cy="434.8" r="6.7"/>
<circle cx="900.1" cy="440.3" r="6.7"/>
<circle cx="911.0" cy="395.3" r="6.7"/>
<circle cx="911.5" cy="399.0" r="6.7"/>
<circle cx="911.1" cy="401.1" r="6.7"/>
<circle cx="910.9" cy="405.6" r="6.7"/>
<circle cx="910.9" cy="410.4" r="6.7"/>
<circle cx="910.9" cy="413.4" r="6.7"/>
<circle cx="910.7" cy="418.3" r="6.7"/>
<circle cx="923.3" cy="218.4" r="6.7"/>
<circle cx="922.4" cy="259.6" r="6.7"/>
<circle cx="923.3" cy="221.9" r="6.7"/>
<circle cx="922.6" cy="225.1" r="6.7"/>
<circle cx="922.5" cy="390.7" r="6.7"/>
<circle cx="922.7" cy="230.4" r="6.7"/>
<circle cx="922.5" cy="233.9" r="6.7"/>
<circle cx="922.8" cy="266.7" r="6.7"/>
<circle cx="922.8" cy="237.7" r="6.7"/>
<circle cx="922.4" cy="240.6" r="6.7"/>
<circle cx="922.9" cy="239.8" r="6.7"/>
<circle cx="923.1" cy="245.9" r="6.7"/>
<circle cx="922.4" cy="248.4" r="6.7"/>
<circle cx="922.5" cy="234.4" r="6.7"/>
<circle cx="923.0" cy="254.2" r="6.7"/>
<circle cx="923.3" cy="257.5" r="6.7"/>
<circle cx="922.9" cy="400.1" r="6.7"/>
<circle cx="922.5" cy="262.8" r="6.7"/>
<circle cx="923.3" cy="265.2" r="6.7"/>
<circle cx="922.6" cy="282.2" r="6.7"/>
<circle cx="922.7" cy="269.2" r="6.7"/>
<circle cx="922.5" cy="272.3" r="6.7"/>
<circle cx="923.2" cy="236.4" r="6.7"/>
<circle cx="922.5" cy="278.8" r="6.7"/>
<circle cx="922.8" cy="280.6" r="6.7"/>
<circle cx="922.8" cy="233.3" r="6.7"/>
<circle cx="923.3" cy="286.2" r="6.7"/>
<circle cx="922.7" cy="287.6" r="6.7"/>
<circle cx="922.4" cy="395.5" r="6.7"/>
<circle cx="922.6" cy="293.1" r="6.7"/>
<circle cx="923.2" cy="295.2" r="6.7"/>
<circle cx="922.5" cy="282.1" r="6.7"/>
<circle cx="923.2" cy="301.4" r="6.7"/>
<circle cx="923.1" cy="304.7" r="6.7"/>
<circle cx="923.1" cy="231.8" r="6.7"/>
<circle cx="922.5" cy="308.2" r="6.7"/>
<circle cx="923.0" cy="312.0" r="6.7"/>
<circle cx="922.4" cy="252.3" r="6.7"/>
<circle cx="922.9" cy="317.3" r="6.7"/>
<circle cx="923.3" cy="320.2" r="6.7"/>
<circle cx="922.9" cy="406.1" r="6.7"/>
<circle cx="922.6" cy="324.3" r="6.7"/>
<circle cx="923.3" cy="327.6" r="6.7"/>
<circle cx="923.1" cy="301.1" r="6.7"/>
<circle cx="923.0" cy="331.6" r="6.7"/>
<circle cx="922.9" cy="334.5" r="6.7"/>
<circle cx="923.3" cy="239.0" r="6.7"/>
<circle cx="923.0" cy="339.2" r="6.7"/>
<circle cx="923.2" cy="343.1" r="6.7"/>
<circle cx="923.3" cy="230.2" r="6.7"/>
<circle cx="922.7" cy="347.1" r="6.7"/>
<circle cx="923.2" cy="350.1" r="6.7"/>
<circle cx="923.3" cy="413.3" r="6.7"/>
<circle cx="923.2" cy="356.6" r="6.7"/>
<circle cx="923.2" cy="358.7" r="6.7"/>
<circle cx="923.1" cy="289.2" r="6.7"/>
<circle cx="922.4" cy="363.6" r="6.7"/>
<circle cx="922.5" cy="367.1" r="6.7"/>
<circle cx="922.6" cy="238.0" r="6.7"/>
<circle cx="923.0" cy="370.6" r="6.7"/>
<circle cx="922.7" cy="373.4" r="6.7"/>
<circle cx="922.4" cy="218.7" r="6.7"/>
<circle cx="923.1" cy="380.4" r="6.7"/>
<circle cx="923.2" cy="381.4" r="6.7"/>
<circle cx="923.0" cy="385.7" r="6.7"/>
<circle cx="922.6" cy="387.1" r="6.7"/>
<circle cx="922.7" cy="389.7" r="6.7"/>
<circle cx="922.6" cy="296.9" r="6.7"/>
<circle cx="922.9" cy="395.0" r="6.7"/>
<circle cx="922.5" cy="398.3" r="6.7"/>
<circle cx="922.5" cy="236.7" r="6.7"/>
<circle cx="922.9" cy="403.8" r="6.7"/>
<circle cx="922.6" cy="404.8" r="6.7"/>
<circle cx="922.7" cy="241.5" r="6.7"/>
<circle cx="922.4" cy="411.7" r="6.7"/>
<circle cx="923.0" cy="413.3" r="6.7"/>
<circle cx="934.5" cy="181.1" r="6.7"/>
<circle cx="934.9" cy="233.7" r="6.7"/>
<circle cx="934.3" cy="235.6" r="6.7"/>
<circle cx="934.8" cy="240.4" r="6.7"/>
<circle cx="934.8" cy="244.3" r="6.7"/>
<circle cx="934.4" cy="257.7" r="6.7"/>
<circle cx="934.6" cy="387.6" r="6.7"/>
<circle cx="934.5" cy="263.4" r="6.7"/>
<circle cx="934.4" cy="265.6" r="6.7"/>
<circle cx="934.1" cy="395.4" r="6.7"/>
<circle cx="934.7" cy="274.0" r="6.7"/>
<circle cx="934.6" cy="276.9" r="6.7"/>
<circle cx="934.8" cy="424.9" r="6.7"/>
<circle cx="934.8" cy="282.8" r="6.7"/>
<circle cx="934.6" cy="283.5" r="6.7"/>
<circle cx="934.2" cy="265.5" r="6.7"/>
<circle cx="934.9" cy="290.9" r="6.7"/>
<circle cx="934.2" cy="294.2" r="6.7"/>
<circle cx="934.5" cy="419.2" r="6.7"/>
<circle cx="934.9" cy="299.7" r="6.7"/>
<circle cx="934.3" cy="302.3" r="6.7"/>
<circle cx="934.5" cy="394.1" r="6.7"/>
<circle cx="934.5" cy="310.1" r="6.7"/>
<circle cx="934.4" cy="311.3" r="6.7"/>
<circle cx="934.5" cy="419.5" r="6.7"/>
<circle cx="934.1" cy="317.0" r="6.7"/>
<circle cx="934.2" cy="319.9" r="6.7"/>
<circle cx="934.2" cy="260.1" r="6.7"/>
<circle cx="934.5" cy="325.8" r="6.7"/>
<circle cx="934.6" cy="330.9" r="6.7"/>
<circle cx="934.5" cy="405.8" r="6.7"/>
<circle cx="934.1" cy="336.4" r="6.7"/>
<circle cx="934.4" cy="339.5" r="6.7"/>
<circle cx="934.4" cy="380.6" r="6.7"/>
<circle cx="934.2" cy="344.5" r="6.7"/>
<circle cx="934.5" cy="347.3" r="6.7"/>
<circle cx="934.3" cy="419.4" r="6.7"/>
<circle cx="934.0" cy="354.3" r="6.7"/>
<circle cx="934.8" cy="356.6" r="6.7"/>
<circle cx="934.4" cy="268.0" r="6.7"/>
<circle cx="934.9" cy="362.5" r="6.7"/>
<circle cx="934.7" cy="365.5" r="6.7"/>
<circle cx="934.1" cy="416.3" r="6.7"/>
<circle cx="934.8" cy="370.9" r="6.7"/>
<circle cx="934.0" cy="374.9" r="6.7"/>
<circle cx="934.7" cy="387.2" r="6.7"/>
<circle cx="934.2" cy="380.1" r="6.7"/>
<circle cx="934.7" cy="385.4" r="6.7"/>
<circle cx="934.1" cy="432.3" r="6.7"/>
<circle cx="934.3" cy="389.7" r="6.7"/>
<circle cx="934.6" cy="393.6" r="6.7"/>
<circle cx="934.5" cy="278.1" r="6.7"/>
<circle cx="934.7" cy="399.8" r="6.7"/>
<circle cx="934.4" cy="402.9" r="6.7"/>
<circle cx="934.7" cy="380.8" r="6.7"/>
<circle cx="934.9" cy="408.8" r="6.7"/>
<circle cx="934.8" cy="410.2" r="6.7"/>
<circle cx="934.5" cy="420.8" r="6.7"/>
<circle cx="934.9" cy="417.2" r="6.7"/>
<circle cx="934.4" cy="420.5" r="6.7"/>
<circle cx="934.7" cy="425.6" r="6.7"/>
<circle cx="934.6" cy="427.3" r="6.7"/>
<circle cx="934.4" cy="429.0" r="6.7"/>
<circle cx="934.2" cy="257.7" r="6.7"/>
<circle cx="945.9" cy="180.7" r="6.7"/>
<circle cx="946.1" cy="331.4" r="6.7"/>
<circle cx="946.0" cy="186.6" r="6.7"/>
<circle cx="945.8" cy="188.2" r="6.7"/>
<circle cx="946.5" cy="331.2" r="6.7"/>
<circle cx="945.8" cy="193.9" r="6.7"/>
<circle cx="946.5" cy="195.9" r="6.7"/>
<circle cx="946.4" cy="324.0" r="6.7"/>
<circle cx="945.6" cy="202.5" r="6.7"/>
<circle cx="946.4" cy="203.5" r="6.7"/>
<circle cx="945.9" cy="326.6" r="6.7"/>
<circle cx="946.0" cy="209.6" r="6.7"/>
<circle cx="946.3" cy="212.6" r="6.7"/>
<circle cx="946.0" cy="336.0" r="6.7"/>
<circle cx="945.6" cy="217.0" r="6.7"/>
<circle cx="946.0" cy="220.1" r="6.7"/>
<circle cx="945.8" cy="331.2" r="6.7"/>
<circle cx="946.1" cy="224.6" r="6.7"/>
<circle cx="946.5" cy="227.8" r="6.7"/>
<circle cx="945.7" cy="329.0" r="6.7"/>
<circle cx="946.0" cy="231.9" r="6.7"/>
<circle cx="946.3" cy="235.0" r="6.7"/>
<circle cx="946.2" cy="335.4" r="6.7"/>
<circle cx="945.6" cy="241.0" r="6.7"/>
<circle cx="945.9" cy="242.7" r="6.7"/>
<circle cx="945.6" cy="324.1" r="6.7"/>
<circle cx="945.7" cy="247.8" r="6.7"/>
<circle cx="945.8" cy="251.2" r="6.7"/>
<circle cx="946.1" cy="321.0" r="6.7"/>
<circle cx="946.2" cy="257.1" r="6.7"/>
<circle cx="946.4" cy="258.7" r="6.7"/>
<circle cx="945.8" cy="340.7" r="6.7"/>
<circle cx="946.0" cy="264.7" r="6.7"/>
<circle cx="946.1" cy="265.4" r="6.7"/>
<circle cx="946.2" cy="335.0" r="6.7"/>
<circle cx="946.2" cy="272.1" r="6.7"/>
<circle cx="945.6" cy="273.1" r="6.7"/>
<circle cx="946.3" cy="333.8" r="6.7"/>
<circle cx="946.5" cy="279.5" r="6.7"/>
<circle cx="945.6" cy="281.8" r="6.7"/>
<circle cx="945.7" cy="330.4" r="6.7"/>
<circle cx="946.1" cy="287.8" r="6.7"/>
<circle cx="946.4" cy="290.7" r="6.7"/>
<circle cx="946.1" cy="329.0" r="6.7"/>
<circle cx="945.7" cy="294.2" r="6.7"/>
<circle cx="945.7" cy="297.8" r="6.7"/>
<circle cx="945.6" cy="321.7" r="6.7"/>
<circle cx="946.5" cy="301.8" r="6.7"/>
<circle cx="946.0" cy="305.4" r="6.7"/>
<circle cx="946.0" cy="328.0" r="6.7"/>
<circle cx="946.2" cy="311.3" r="6.7"/>
<circle cx="946.1" cy="313.6" r="6.7"/>
<circle cx="945.8" cy="331.6" r="6.7"/>
<circle cx="946.2" cy="317.3" r="6.7"/>
<circle cx="946.5" cy="321.8" r="6.7"/>
<circle cx="945.6" cy="332.4" r="6.7"/>
<circle cx="946.2" cy="325.5" r="6.7"/>
<circle cx="945.8" cy="327.6" r="6.7"/>
<circle cx="945.6" cy="320.7" r="6.7"/>
<circle cx="945.8" cy="332.9" r="6.7"/>
<circle cx="945.7" cy="335.9" r="6.7"/>
<circle cx="946.1" cy="335.1" r="6.7"/>
<circle cx="945.6" cy="341.0" r="6.7"/>
<circle cx="946.0" cy="345.2" r="6.7"/>
<circle cx="946.4" cy="324.9" r="6.7"/>
<circle cx="945.6" cy="350.7" r="6.7"/>
<circle cx="946.2" cy="352.6" r="6.7"/>
<circle cx="946.1" cy="331.1" r="6.7"/>
<circle cx="945.9" cy="357.1" r="6.7"/>
<circle cx="945.6" cy="360.4" r="6.7"/>
<circle cx="945.7" cy="330.6" r="6.7"/>
<circle cx="945.6" cy="364.9" r="6.7"/>
<circle cx="945.9" cy="368.6" r="6.7"/>
<circle cx="945.9" cy="327.0" r="6.7"/>
<circle cx="946.4" cy="372.5" r="6.7"/>
<circle cx="946.2" cy="375.1" r="6.7"/>
<circle cx="946.5" cy="335.0" r="6.7"/>
<circle cx="945.9" cy="380.9" r="6.7"/>
<circle cx="945.9" cy="383.2" r="6.7"/>
<circle cx="946.0" cy="327.3" r="6.7"/>
<circle cx="945.6" cy="388.0" r="6.7"/>
<circle cx="945.8" cy="391.8" r="6.7"/>
<circle cx="946.1" cy="331.6" r="6.7"/>
<circle cx="946.1" cy="397.0" r="6.7"/>
<circle cx="946.3" cy="398.8" r="6.7"/>
<circle cx="945.8" cy="331.8" r="6.7"/>
<circle cx="945.8" cy="403.8" r="6.7"/>
<circle cx="946.2" cy="406.5" r="6.7"/>
<circle cx="946.0" cy="324.4" r="6.7"/>
<circle cx="958.0" cy="146.7" r="6.7"/>
<circle cx="958.1" cy="152.4" r="6.7"/>
<circle cx="957.8" cy="158.7" r="6.7"/>
<circle cx="958.1" cy="161.0" r="6.7"/>
<circle cx="957.5" cy="175.1" r="6.7"/>
<circle cx="957.8" cy="174.7" r="6.7"/>
<circle cx="957.5" cy="177.9" r="6.7"/>
<circle cx="957.2" cy="179.3" r="6.7"/>
<circle cx="957.5" cy="189.9" r="6.7"/>
<circle cx="957.3" cy="182.8" r="6.7"/>
<circle cx="957.5" cy="184.2" r="6.7"/>
<circle cx="957.7" cy="198.3" r="6.7"/>
<circle cx="957.2" cy="187.0" r="6.7"/>
<circle cx="957.4" cy="188.6" r="6.7"/>
<circle cx="957.4" cy="188.9" r="6.7"/>
<circle cx="958.1" cy="191.9" r="6.7"/>
<circle cx="958.0" cy="194.0" r="6.7"/>
<circle cx="958.0" cy="194.4" r="6.7"/>
<circle cx="957.4" cy="196.2" r="6.7"/>
<circle cx="957.8" cy="197.6" r="6.7"/>
<circle cx="957.4" cy="211.7" r="6.7"/>
<circle cx="957.4" cy="215.1" r="6.7"/>
<circle cx="957.6" cy="217.3" r="6.7"/>
<circle cx="957.6" cy="219.7" r="6.7"/>
<circle cx="957.9" cy="380.0" r="6.7"/>
<circle cx="957.9" cy="223.8" r="6.7"/>
<circle cx="957.8" cy="227.4" r="6.7"/>
<circle cx="957.4" cy="314.8" r="6.7"/>
<circle cx="957.7" cy="232.4" r="6.7"/>
<circle cx="957.8" cy="236.0" r="6.7"/>
<circle cx="957.7" cy="305.9" r="6.7"/>
<circle cx="957.3" cy="241.2" r="6.7"/>
<circle cx="957.8" cy="243.4" r="6.7"/>
<circle cx="957.7" cy="236.5" r="6.7"/>
<circle cx="958.1" cy="248.4" r="6.7"/>
<circle cx="957.2" cy="251.0" r="6.7"/>
<circle cx="957.5" cy="346.4" r="6.7"/>
<circle cx="957.5" cy="256.4" r="6.7"/>
<circle cx="957.6" cy="259.3" r="6.7"/>
<circle cx="957.8" cy="297.1" r="6.7"/>
<circle cx="957.7" cy="262.9" r="6.7"/>
<circle cx="958.1" cy="265.7" r="6.7"/>
<circle cx="957.6" cy="262.8" r="6.7"/>
<circle cx="957.7" cy="270.9" r="6.7"/>
<circle cx="958.0" cy="274.3" r="6.7"/>
<circle cx="957.8" cy="211.7" r="6.7"/>
<circle cx="957.8" cy="278.4" r="6.7"/>
<circle cx="957.9" cy="282.5" r="6.7"/>
<circle cx="957.6" cy="350.9" r="6.7"/>
<circle cx="958.1" cy="286.1" r="6.7"/>
<circle cx="957.7" cy="290.2" r="6.7"/>
<circle cx="957.9" cy="302.5" r="6.7"/>
<circle cx="957.4" cy="294.0" r="6.7"/>
<circle cx="957.3" cy="298.3" r="6.7"/>
<circle cx="957.5" cy="319.8" r="6.7"/>
<circle cx="957.8" cy="301.4" r="6.7"/>
<circle cx="957.8" cy="304.1" r="6.7"/>
<circle cx="957.9" cy="211.7" r="6.7"/>
<circle cx="957.8" cy="309.0" r="6.7"/>
<circle cx="957.8" cy="311.9" r="6.7"/>
<circle cx="957.9" cy="363.3" r="6.7"/>
<circle cx="957.9" cy="317.1" r="6.7"/>
<circle cx="957.4" cy="320.7" r="6.7"/>
<circle cx="957.6" cy="294.3" r="6.7"/>
<circle cx="957.8" cy="326.7" r="6.7"/>
<circle cx="958.1" cy="327.5" r="6.7"/>
<circle cx="958.0" cy="307.3" r="6.7"/>
<circle cx="957.4" cy="333.2" r="6.7"/>
<circle cx="957.2" cy="336.5" r="6.7"/>
<circle cx="958.1" cy="213.7" r="6.7"/>
<circle cx="957.3" cy="340.8" r="6.7"/>
<circle cx="958.1" cy="343.4" r="6.7"/>
<circle cx="957.3" cy="362.4" r="6.7"/>
<circle cx="957.7" cy="348.9" r="6.7"/>
<circle cx="957.7" cy="351.1" r="6.7"/>
<circle cx="958.1" cy="313.1" r="6.7"/>
<circle cx="957.9" cy="356.7" r="6.7"/>
<circle cx="957.9" cy="359.0" r="6.7"/>
<circle cx="957.4" cy="316.8" r="6.7"/>
<circle cx="958.1" cy="364.9" r="6.7"/>
<circle cx="957.9" cy="367.1" r="6.7"/>
<circle cx="957.2" cy="212.4" r="6.7"/>
<circle cx="957.8" cy="371.8" r="6.7"/>
<circle cx="957.9" cy="375.4" r="6.7"/>
<circle cx="957.8" cy="373.2" r="6.7"/>
<circle cx="957.9" cy="379.1" r="6.7"/>
<circle cx="957.6" cy="381.6" r="6.7"/>
<circle cx="958.1" cy="306.6" r="6.7"/>
<circle cx="958.1" cy="387.9" r="6.7"/>
<circle cx="957.3" cy="390.9" r="6.7"/>
<circle cx="957.9" cy="323.0" r="6.7"/>
<circle cx="957.8" cy="395.2" r="6.7"/>
<circle cx="957.8" cy="397.9" r="6.7"/>
<circle cx="957.3" cy="212.0" r="6.7"/>
<circle cx="958.0" cy="404.4" r="6.7"/>
<circle cx="957.2" cy="405.4" r="6.7"/>
<circle cx="957.3" cy="369.5" r="6.7"/>
<circle cx="958.1" cy="411.9" r="6.7"/>
<circle cx="957.6" cy="414.9" r="6.7"/>
<circle cx="957.6" cy="307.6" r="6.7"/>
<circle cx="958.2" cy="419.5" r="6.7"/>
<circle cx="957.8" cy="421.8" r="6.7"/>
<circle cx="957.3" cy="315.4" r="6.7"/>
<circle cx="957.3" cy="426.1" r="6.7"/>
<circle cx="957.6" cy="429.3" r="6.7"/>
<circle cx="969.4" cy="218.7" r="6.7"/>
<circle cx="968.9" cy="258.7" r="6.7"/>
<circle cx="968.8" cy="223.5" r="6.7"/>
<circle cx="969.7" cy="228.2" r="6.7"/>
<circle cx="968.8" cy="343.4" r="6.7"/>
<circle cx="969.7" cy="232.3" r="6.7"/>
<circle cx="969.5" cy="235.8" r="6.7"/>
<circle cx="969.6" cy="252.7" r="6.7"/>
<circle cx="969.3" cy="243.1" r="6.7"/>
<circle cx="969.3" cy="245.5" r="6.7"/>
<circle cx="969.3" cy="354.2" r="6.7"/>
<circle cx="969.3" cy="251.4" r="6.7"/>
<circle cx="968.9" cy="254.9" r="6.7"/>
<circle cx="968.8" cy="243.3" r="6.7"/>
<circle cx="969.5" cy="261.4" r="6.7"/>
<circle cx="969.4" cy="263.1" r="6.7"/>
<circle cx="969.3" cy="361.4" r="6.7"/>
<circle cx="969.1" cy="269.4" r="6.7"/>
<circle cx="968.9" cy="273.0" r="6.7"/>
<circle cx="969.4" cy="260.6" r="6.7"/>
<circle cx="969.0" cy="279.5" r="6.7"/>
<circle cx="969.5" cy="282.2" r="6.7"/>
<circle cx="968.9" cy="344.6" r="6.7"/>
<circle cx="969.3" cy="287.7" r="6.7"/>
<circle cx="969.1" cy="291.7" r="6.7"/>
<circle cx="969.0" cy="253.9" r="6.7"/>
<circle cx="969.7" cy="295.8" r="6.7"/>
<circle cx="969.5" cy="298.7" r="6.7"/>
<circle cx="969.0" cy="364.2" r="6.7"/>
<circle cx="969.4" cy="306.4" r="6.7"/>
<circle cx="969.4" cy="307.6" r="6.7"/>
<circle cx="969.2" cy="251.7" r="6.7"/>
<circle cx="969.5" cy="314.6" r="6.7"/>
<circle cx="969.7" cy="318.1" r="6.7"/>
<circle cx="969.3" cy="346.8" r="6.7"/>
<circle cx="969.4" cy="324.4" r="6.7"/>
<circle cx="968.9" cy="327.2" r="6.7"/>
<circle cx="969.6" cy="242.6" r="6.7"/>
<circle cx="969.4" cy="333.6" r="6.7"/>
<circle cx="969.3" cy="336.6" r="6.7"/>
<circle cx="969.2" cy="353.4" r="6.7"/>
<circle cx="969.3" cy="341.9" r="6.7"/>
<circle cx="969.0" cy="345.6" r="6.7"/>
<circle cx="969.1" cy="249.4" r="6.7"/>
<circle cx="969.2" cy="350.7" r="6.7"/>
<circle cx="968.8" cy="352.1" r="6.7"/>
<circle cx="969.5" cy="354.3" r="6.7"/>
<circle cx="969.2" cy="360.6" r="6.7"/>
<circle cx="968.9" cy="361.3" r="6.7"/>
<circle cx="969.7" cy="256.5" r="6.7"/>
<circle cx="968.9" cy="367.5" r="6.7"/>
<circle cx="969.1" cy="371.9" r="6.7"/>
<circle cx="969.1" cy="351.3" r="6.7"/>
<circle cx="969.6" cy="377.3" r="6.7"/>
<circle cx="980.5" cy="139.8" r="6.7"/>
<circle cx="980.5" cy="139.7" r="6.7"/>
<circle cx="981.0" cy="143.6" r="6.7"/>
<circle cx="980.6" cy="144.3" r="6.7"/>
<circle cx="980.8" cy="149.6" r="6.7"/>
<circle cx="980.9" cy="148.4" r="6.7"/>
<circle cx="980.4" cy="149.0" r="6.7"/>
<circle cx="980.6" cy="164.3" r="6.7"/>
<circle cx="980.7" cy="152.9" r="6.7"/>
<circle cx="980.7" cy="154.7" r="6.7"/>
<circle cx="980.5" cy="164.3" r="6.7"/>
<circle cx="980.9" cy="158.3" r="6.7"/>
<circle cx="981.2" cy="159.7" r="6.7"/>
<circle cx="980.7" cy="144.1" r="6.7"/>
<circle cx="980.9" cy="162.2" r="6.7"/>
<circle cx="981.2" cy="164.3" r="6.7"/>
<circle cx="981.3" cy="253.3" r="6.7"/>
<circle cx="981.1" cy="372.4" r="6.7"/>
<circle cx="980.6" cy="256.6" r="6.7"/>
<circle cx="980.9" cy="259.5" r="6.7"/>
<circle cx="980.7" cy="258.0" r="6.7"/>
<circle cx="981.0" cy="262.1" r="6.7"/>
<circle cx="981.2" cy="264.2" r="6.7"/>
<circle cx="981.1" cy="383.1" r="6.7"/>
<circle cx="980.8" cy="268.4" r="6.7"/>
<circle cx="980.7" cy="271.5" r="6.7"/>
<circle cx="980.6" cy="260.2" r="6.7"/>
<circle cx="981.2" cy="274.3" r="6.7"/>
<circle cx="981.0" cy="277.0" r="6.7"/>
<circle cx="981.1" cy="383.7" r="6.7"/>
<circle cx="980.7" cy="280.1" r="6.7"/>
<circle cx="981.4" cy="282.0" r="6.7"/>
<circle cx="980.9" cy="257.7" r="6.7"/>
<circle cx="981.1" cy="286.2" r="6.7"/>
<circle cx="981.3" cy="289.6" r="6.7"/>
<circle cx="980.5" cy="384.0" r="6.7"/>
<circle cx="980.8" cy="292.3" r="6.7"/>
<circle cx="980.5" cy="295.0" r="6.7"/>
<circle cx="980.6" cy="271.7" r="6.7"/>
<circle cx="980.5" cy="299.4" r="6.7"/>
<circle cx="981.3" cy="300.1" r="6.7"/>
<circle cx="980.7" cy="354.5" r="6.7"/>
<circle cx="981.2" cy="304.6" r="6.7"/>
<circle cx="981.2" cy="306.4" r="6.7"/>
<circle cx="981.1" cy="264.5" r="6.7"/>
<circle cx="981.2" cy="311.2" r="6.7"/>
<circle cx="980.9" cy="313.4" r="6.7"/>
<circle cx="981.3" cy="363.5" r="6.7"/>
<circle cx="981.4" cy="317.5" r="6.7"/>
<circle cx="980.6" cy="318.3" r="6.7"/>
<circle cx="980.8" cy="279.1" r="6.7"/>
<circle cx="981.1" cy="322.7" r="6.7"/>
<circle cx="981.0" cy="325.7" r="6.7"/>
<circle cx="980.5" cy="362.6" r="6.7"/>
<circle cx="980.6" cy="329.3" r="6.7"/>
<circle cx="981.0" cy="331.1" r="6.7"/>
<circle cx="980.6" cy="270.8" r="6.7"/>
<circle cx="980.9" cy="335.7" r="6.7"/>
<circle cx="980.7" cy="336.6" r="6.7"/>
<circle cx="980.8" cy="372.1" r="6.7"/>
<circle cx="981.1" cy="341.8" r="6.7"/>
<circle cx="981.3" cy="343.4" r="6.7"/>
<circle cx="980.5" cy="271.7" r="6.7"/>
<circle cx="980.9" cy="347.7" r="6.7"/>
<circle cx="981.0" cy="349.5" r="6.7"/>
<circle cx="980.6" cy="365.0" r="6.7"/>
<circle cx="980.4" cy="352.2" r="6.7"/>
<circle cx="981.3" cy="354.9" r="6.7"/>
<circle cx="980.5" cy="264.0" r="6.7"/>
<circle cx="980.4" cy="358.6" r="6.7"/>
<circle cx="980.4" cy="360.4" r="6.7"/>
<circle cx="980.4" cy="385.5" r="6.7"/>
<circle cx="980.9" cy="365.6" r="6.7"/>
<circle cx="980.4" cy="367.5" r="6.7"/>
<circle cx="980.4" cy="264.6" r="6.7"/>
<circle cx="980.4" cy="370.8" r="6.7"/>
<circle cx="981.2" cy="372.8" r="6.7"/>
<circle cx="980.4" cy="388.4" r="6.7"/>
<circle cx="981.0" cy="377.1" r="6.7"/>
<circle cx="980.5" cy="379.6" r="6.7"/>
<circle cx="980.5" cy="279.4" r="6.7"/>
<circle cx="981.1" cy="383.3" r="6.7"/>
<circle cx="980.8" cy="386.0" r="6.7"/>
<circle cx="981.3" cy="358.4" r="6.7"/>
<circle cx="980.4" cy="389.8" r="6.7"/>
<circle cx="981.0" cy="390.8" r="6.7"/>
<circle cx="981.1" cy="262.2" r="6.7"/>
<circle cx="980.5" cy="395.8" r="6.7"/>
<circle cx="980.6" cy="396.3" r="6.7"/>
<circle cx="980.9" cy="383.3" r="6.7"/>
<circle cx="980.7" cy="401.8" r="6.7"/>
<circle cx="980.7" cy="402.9" r="6.7"/>
<circle cx="980.5" cy="257.3" r="6.7"/>
<circle cx="980.9" cy="408.1" r="6.7"/>
<circle cx="981.0" cy="408.7" r="6.7"/>
<circle cx="981.2" cy="353.4" r="6.7"/>
<circle cx="980.4" cy="413.2" r="6.7"/>
<circle cx="981.0" cy="415.5" r="6.7"/>
<circle cx="980.9" cy="252.7" r="6.7"/>
<circle cx="980.9" cy="419.0" r="6.7"/>
<circle cx="980.6" cy="420.8" r="6.7"/>
<circle cx="980.9" cy="367.8" r="6.7"/>
<circle cx="981.2" cy="424.5" r="6.7"/>
<circle cx="980.5" cy="428.1" r="6.7"/>
<circle cx="981.3" cy="259.0" r="6.7"/>
<circle cx="981.0" cy="432.1" r="6.7"/>
<circle cx="980.9" cy="432.6" r="6.7"/>
<circle cx="980.6" cy="365.1" r="6.7"/>
<circle cx="980.6" cy="437.8" r="6.7"/>
<circle cx="981.1" cy="439.3" r="6.7"/>
<circle cx="992.7" cy="250.7" r="6.7"/>
<circle cx="992.2" cy="342.1" r="6.7"/>
<circle cx="992.9" cy="256.9" r="6.7"/>
<circle cx="992.2" cy="258.3" r="6.7"/>
<circle cx="992.8" cy="383.2" r="6.7"/>
<circle cx="992.6" cy="262.7" r="6.7"/>
<circle cx="992.8" cy="265.3" r="6.7"/>
<circle cx="992.3" cy="374.1" r="6.7"/>
<circle cx="992.3" cy="271.0" r="6.7"/>
<circle cx="992.3" cy="275.3" r="6.7"/>
<circle cx="992.6" cy="364.1" r="6.7"/>
<circle cx="992.0" cy="280.4" r="6.7"/>
<circle cx="992.7" cy="281.0" r="6.7"/>
<circle cx="992.3" cy="361.5" r="6.7"/>
<circle cx="992.2" cy="287.2" r="6.7"/>
<circle cx="992.5" cy="290.9" r="6.7"/>
<circle cx="993.0" cy="386.0" r="6.7"/>
<circle cx="992.4" cy="296.0" r="6.7"/>
<circle cx="992.7" cy="298.9" r="6.7"/>
<circle cx="992.3" cy="366.3" r="6.7"/>
<circle cx="992.0" cy="302.2" r="6.7"/>
<circle cx="992.2" cy="306.6" r="6.7"/>
<circle cx="992.3" cy="372.0" r="6.7"/>
<circle cx="992.9" cy="311.3" r="6.7"/>
<circle cx="992.0" cy="313.0" r="6.7"/>
<circle cx="992.7" cy="365.0" r="6.7"/>
<circle cx="992.7" cy="317.8" r="6.7"/>
<circle cx="992.4" cy="321.4" r="6.7"/>
<circle cx="992.1" cy="349.4" r="6.7"/>
<circle cx="992.7" cy="327.8" r="6.7"/>
<circle cx="992.1" cy="330.1" r="6.7"/>
<circle cx="992.3" cy="365.7" r="6.7"/>
<circle cx="992.3" cy="334.6" r="6.7"/>
<circle cx="992.4" cy="337.8" r="6.7"/>
<circle cx="992.4" cy="370.4" r="6.7"/>
<circle cx="992.6" cy="342.3" r="6.7"/>
<circle cx="992.4" cy="345.5" r="6.7"/>
<circle cx="992.6" cy="349.9" r="6.7"/>
<circle cx="992.6" cy="349.6" r="6.7"/>
<circle cx="992.1" cy="351.8" r="6.7"/>
<circle cx="992.6" cy="392.3" r="6.7"/>
<circle cx="992.7" cy="358.4" r="6.7"/>
<circle cx="992.0" cy="361.4" r="6.7"/>
<circle cx="992.1" cy="364.0" r="6.7"/>
<circle cx="992.9" cy="367.1" r="6.7"/>
<circle cx="992.0" cy="368.8" r="6.7"/>
<circle cx="992.2" cy="371.1" r="6.7"/>
<circle cx="992.6" cy="374.0" r="6.7"/>
<circle cx="993.0" cy="376.7" r="6.7"/>
<circle cx="992.9" cy="341.8" r="6.7"/>
<circle cx="992.9" cy="380.8" r="6.7"/>
<circle cx="992.9" cy="385.3" r="6.7"/>
<circle cx="992.2" cy="369.4" r="6.7"/>
<circle cx="992.7" cy="388.7" r="6.7"/>
<circle cx="992.2" cy="391.2" r="6.7"/>
<circle cx="1003.9" cy="231.7" r="6.7"/>
<circle cx="1003.9" cy="389.5" r="6.7"/>
<circle cx="1004.0" cy="236.1" r="6.7"/>
<circle cx="1004.3" cy="239.9" r="6.7"/>
<circle cx="1003.8" cy="269.2" r="6.7"/>
<circle cx="1004.1" cy="243.5" r="6.7"/>
<circle cx="1003.7" cy="245.8" r="6.7"/>
<circle cx="1004.4" cy="377.0" r="6.7"/>
<circle cx="1004.2" cy="251.7" r="6.7"/>
<circle cx="1004.1" cy="252.6" r="6.7"/>
<circle cx="1004.6" cy="254.2" r="6.7"/>
<circle cx="1004.3" cy="258.4" r="6.7"/>
<circle cx="1004.4" cy="261.4" r="6.7"/>
<circle cx="1004.2" cy="372.1" r="6.7"/>
<circle cx="1004.3" cy="264.1" r="6.7"/>
<circle cx="1004.1" cy="267.3" r="6.7"/>
<circle cx="1004.3" cy="265.0" r="6.7"/>
<circle cx="1004.2" cy="272.2" r="6.7"/>
<circle cx="1004.2" cy="274.6" r="6.7"/>
<circle cx="1004.0" cy="355.7" r="6.7"/>
<circle cx="1004.1" cy="279.1" r="6.7"/>
<circle cx="1004.4" cy="281.6" r="6.7"/>
<circle cx="1004.4" cy="268.9" r="6.7"/>
<circle cx="1003.9" cy="287.5" r="6.7"/>
<circle cx="1004.6" cy="288.1" r="6.7"/>
<circle cx="1004.4" cy="373.0" r="6.7"/>
<circle cx="1004.4" cy="292.9" r="6.7"/>
<circle cx="1004.5" cy="296.6" r="6.7"/>
<circle cx="1004.3" cy="276.7" r="6.7"/>
<circle cx="1004.4" cy="300.5" r="6.7"/>
<circle cx="1003.9" cy="304.2" r="6.7"/>
<circle cx="1004.6" cy="360.1" r="6.7"/>
<circle cx="1004.3" cy="307.2" r="6.7"/>
<circle cx="1003.8" cy="310.3" r="6.7"/>
<circle cx="1003.7" cy="262.9" r="6.7"/>
<circle cx="1004.2" cy="315.0" r="6.7"/>
<circle cx="1004.2" cy="317.0" r="6.7"/>
<circle cx="1004.4" cy="389.6" r="6.7"/>
<circle cx="1004.5" cy="322.8" r="6.7"/>
<circle cx="1003.9" cy="324.5" r="6.7"/>
<circle cx="1004.4" cy="281.3" r="6.7"/>
<circle cx="1004.0" cy="329.5" r="6.7"/>
<circle cx="1004.0" cy="332.5" r="6.7"/>
<circle cx="1004.1" cy="361.8" r="6.7"/>
<circle cx="1004.2" cy="336.4" r="6.7"/>
<circle cx="1003.9" cy="338.7" r="6.7"/>
<circle cx="1004.0" cy="274.4" r="6.7"/>
<circle cx="1004.2" cy="343.2" r="6.7"/>
<circle cx="1003.7" cy="346.9" r="6.7"/>
<circle cx="1003.7" cy="373.6" r="6.7"/>
<circle cx="1004.2" cy="351.1" r="6.7"/>
<circle cx="1004.1" cy="353.8" r="6.7"/>
<circle cx="1004.4" cy="267.3" r="6.7"/>
<circle cx="1004.1" cy="357.8" r="6.7"/>
<circle cx="1003.8" cy="359.7" r="6.7"/>
<circle cx="1004.1" cy="365.3" r="6.7"/>
<circle cx="1003.8" cy="366.4" r="6.7"/>
<circle cx="1004.0" cy="367.4" r="6.7"/>
<circle cx="1004.1" cy="264.4" r="6.7"/>
<circle cx="1003.7" cy="372.7" r="6.7"/>
<circle cx="1004.5" cy="374.3" r="6.7"/>
<circle cx="1004.5" cy="369.1" r="6.7"/>
<circle cx="1004.0" cy="380.3" r="6.7"/>
<circle cx="1004.3" cy="381.2" r="6.7"/>
<circle cx="1004.5" cy="278.1" r="6.7"/>
<circle cx="1004.2" cy="386.9" r="6.7"/>
<circle cx="1003.8" cy="388.9" r="6.7"/>
<circle cx="1004.2" cy="379.3" r="6.7"/>
<circle cx="1004.4" cy="395.2" r="6.7"/>
<circle cx="1003.6" cy="396.7" r="6.7"/>
<circle cx="1003.8" cy="264.7" r="6.7"/>
<circle cx="1003.7" cy="402.1" r="6.7"/>
<circle cx="1004.0" cy="403.6" r="6.7"/>
<circle cx="1004.2" cy="347.6" r="6.7"/>
<circle cx="1003.7" cy="409.2" r="6.7"/>
<circle cx="1004.5" cy="411.0" r="6.7"/>
<circle cx="1004.3" cy="275.0" r="6.7"/>
<circle cx="1015.9" cy="221.4" r="6.7"/>
<circle cx="1015.2" cy="369.3" r="6.7"/>
<circle cx="1015.7" cy="225.9" r="6.7"/>
<circle cx="1015.9" cy="228.5" r="6.7"/>
<circle cx="1015.3" cy="360.3" r="6.7"/>
<circle cx="1015.3" cy="232.1" r="6.7"/>
<circle cx="1015.3" cy="235.8" r="6.7"/>
<circle cx="1015.7" cy="383.5" r="6.7"/>
<circle cx="1015.9" cy="238.9" r="6.7"/>
<circle cx="1015.7" cy="242.7" r="6.7"/>
<circle cx="1015.2" cy="378.3" r="6.7"/>
<circle cx="1015.6" cy="247.4" r="6.7"/>
<circle cx="1016.2" cy="249.6" r="6.7"/>
<circle cx="1015.3" cy="377.8" r="6.7"/>
<circle cx="1015.7" cy="253.9" r="6.7"/>
<circle cx="1016.2" cy="255.5" r="6.7"/>
<circle cx="1015.5" cy="352.3" r="6.7"/>
<circle cx="1015.5" cy="260.9" r="6.7"/>
<circle cx="1016.0" cy="263.3" r="6.7"/>
<circle cx="1015.6" cy="359.2" r="6.7"/>
<circle cx="1015.5" cy="267.6" r="6.7"/>
<circle cx="1016.0" cy="271.8" r="6.7"/>
<circle cx="1016.0" cy="366.0" r="6.7"/>
<circle cx="1015.4" cy="275.2" r="6.7"/>
<circle cx="1015.7" cy="277.2" r="6.7"/>
<circle cx="1015.7" cy="362.5" r="6.7"/>
<circle cx="1015.5" cy="283.1" r="6.7"/>
<circle cx="1015.4" cy="286.0" r="6.7"/>
<circle cx="1016.1" cy="377.5" r="6.7"/>
<circle cx="1015.2" cy="290.3" r="6.7"/>
<circle cx="1015.7" cy="292.1" r="6.7"/>
<circle cx="1015.5" cy="359.6" r="6.7"/>
<circle cx="1016.0" cy="296.8" r="6.7"/>
<circle cx="1015.9" cy="299.3" r="6.7"/>
<circle cx="1016.0" cy="376.6" r="6.7"/>
<circle cx="1015.6" cy="304.7" r="6.7"/>
<circle cx="1015.6" cy="307.8" r="6.7"/>
<circle cx="1015.6" cy="372.3" r="6.7"/>
<circle cx="1015.2" cy="312.0" r="6.7"/>
<circle cx="1015.3" cy="314.9" r="6.7"/>
<circle cx="1015.8" cy="367.6" r="6.7"/>
<circle cx="1016.1" cy="318.2" r="6.7"/>
<circle cx="1016.0" cy="321.4" r="6.7"/>
<circle cx="1015.9" cy="355.7" r="6.7"/>
<circle cx="1015.4" cy="325.6" r="6.7"/>
<circle cx="1015.3" cy="329.2" r="6.7"/>
<circle cx="1016.1" cy="370.1" r="6.7"/>
<circle cx="1015.3" cy="332.6" r="6.7"/>
<circle cx="1016.0" cy="334.8" r="6.7"/>
<circle cx="1015.8" cy="379.3" r="6.7"/>
<circle cx="1016.1" cy="339.9" r="6.7"/>
<circle cx="1015.3" cy="343.2" r="6.7"/>
<circle cx="1015.2" cy="366.9" r="6.7"/>
<circle cx="1015.2" cy="348.0" r="6.7"/>
<circle cx="1015.5" cy="350.7" r="6.7"/>
<circle cx="1015.5" cy="371.3" r="6.7"/>
<circle cx="1015.3" cy="354.9" r="6.7"/>
<circle cx="1015.5" cy="358.1" r="6.7"/>
<circle cx="1016.0" cy="382.4" r="6.7"/>
<circle cx="1016.0" cy="361.2" r="6.7"/>
<circle cx="1015.6" cy="365.4" r="6.7"/>
<circle cx="1015.8" cy="379.0" r="6.7"/>
<circle cx="1015.7" cy="368.5" r="6.7"/>
<circle cx="1015.6" cy="370.7" r="6.7"/>
<circle cx="1015.9" cy="371.8" r="6.7"/>
<circle cx="1015.9" cy="376.2" r="6.7"/>
<circle cx="1016.0" cy="377.9" r="6.7"/>
<circle cx="1016.2" cy="385.4" r="6.7"/>
<circle cx="1015.7" cy="384.5" r="6.7"/>
<circle cx="1015.5" cy="385.5" r="6.7"/>
<circle cx="1015.9" cy="384.9" r="6.7"/>
<circle cx="1027.7" cy="116.7" r="6.7"/>
<circle cx="1027.3" cy="121.4" r="6.7"/>
<circle cx="1027.4" cy="133.4" r="6.7"/>
<circle cx="1026.9" cy="138.6" r="6.7"/>
<circle cx="1027.1" cy="143.3" r="6.7"/>
<circle cx="1027.6" cy="155.3" r="6.7"/>
<circle cx="1027.7" cy="158.3" r="6.7"/>
<circle cx="1027.4" cy="164.3" r="6.7"/>
<circle cx="1027.1" cy="177.4" r="6.7"/>
<circle cx="1027.4" cy="184.4" r="6.7"/>
<circle cx="1027.1" cy="186.0" r="6.7"/>
<circle cx="1027.0" cy="195.8" r="6.7"/>
<circle cx="1027.0" cy="203.3" r="6.7"/>
<circle cx="1026.8" cy="216.7" r="6.7"/>
<circle cx="1027.2" cy="321.0" r="6.7"/>
<circle cx="1027.2" cy="221.5" r="6.7"/>
<circle cx="1026.9" cy="224.0" r="6.7"/>
<circle cx="1027.5" cy="309.6" r="6.7"/>
<circle cx="1027.1" cy="228.2" r="6.7"/>
<circle cx="1026.9" cy="230.2" r="6.7"/>
<circle cx="1027.6" cy="322.9" r="6.7"/>
<circle cx="1027.0" cy="233.9" r="6.7"/>
<circle cx="1027.0" cy="235.7" r="6.7"/>
<circle cx="1026.9" cy="306.2" r="6.7"/>
<circle cx="1027.3" cy="240.4" r="6.7"/>
<circle cx="1027.0" cy="242.7" r="6.7"/>
<circle cx="1027.0" cy="302.5" r="6.7"/>
<circle cx="1027.1" cy="248.4" r="6.7"/>
<circle cx="1027.8" cy="249.8" r="6.7"/>
<circle cx="1027.7" cy="304.2" r="6.7"/>
<circle cx="1027.3" cy="254.5" r="6.7"/>
<circle cx="1026.9" cy="255.7" r="6.7"/>
<circle cx="1027.6" cy="308.8" r="6.7"/>
<circle cx="1027.0" cy="261.1" r="6.7"/>
<circle cx="1026.9" cy="263.3" r="6.7"/>
<circle cx="1027.0" cy="308.1" r="6.7"/>
<circle cx="1027.8" cy="267.9" r="6.7"/>
<circle cx="1027.4" cy="269.3" r="6.7"/>
<circle cx="1026.9" cy="317.7" r="6.7"/>
<circle cx="1027.0" cy="274.2" r="6.7"/>
<circle cx="1027.6" cy="275.5" r="6.7"/>
<circle cx="1027.3" cy="315.6" r="6.7"/>
<circle cx="1027.6" cy="281.1" r="6.7"/>
<circle cx="1027.1" cy="281.8" r="6.7"/>
<circle cx="1027.6" cy="312.5" r="6.7"/>
<circle cx="1027.1" cy="286.4" r="6.7"/>
<circle cx="1027.5" cy="288.4" r="6.7"/>
<circle cx="1027.4" cy="310.5" r="6.7"/>
<circle cx="1027.1" cy="293.0" r="6.7"/>
<circle cx="1027.6" cy="296.7" r="6.7"/>
<circle cx="1026.9" cy="326.4" r="6.7"/>
<circle cx="1027.0" cy="300.2" r="6.7"/>
<circle cx="1027.6" cy="303.0" r="6.7"/>
<circle cx="1027.0" cy="309.9" r="6.7"/>
<circle cx="1027.5" cy="307.6" r="6.7"/>
<circle cx="1026.9" cy="309.4" r="6.7"/>
<circle cx="1026.8" cy="330.4" r="6.7"/>
<circle cx="1027.1" cy="313.5" r="6.7"/>
<circle cx="1027.4" cy="314.7" r="6.7"/>
<circle cx="1026.8" cy="306.1" r="6.7"/>
<circle cx="1026.8" cy="320.7" r="6.7"/>
<circle cx="1027.2" cy="321.9" r="6.7"/>
<circle cx="1027.4" cy="287.1" r="6.7"/>
<circle cx="1027.3" cy="327.2" r="6.7"/>
<circle cx="1027.3" cy="329.3" r="6.7"/>
<circle cx="1027.0" cy="279.8" r="6.7"/>
<circle cx="1027.1" cy="333.6" r="6.7"/>
<circle cx="1027.3" cy="334.5" r="6.7"/>
<circle cx="1026.9" cy="310.0" r="6.7"/>
<circle cx="1027.4" cy="339.5" r="6.7"/>
<circle cx="1027.3" cy="342.8" r="6.7"/>
<circle cx="1027.5" cy="288.1" r="6.7"/>
<circle cx="1027.4" cy="346.6" r="6.7"/>
<circle cx="1026.9" cy="348.8" r="6.7"/>
<circle cx="1027.5" cy="310.2" r="6.7"/>
<circle cx="1027.0" cy="353.6" r="6.7"/>
<circle cx="1027.3" cy="355.3" r="6.7"/>
<circle cx="1027.7" cy="284.6" r="6.7"/>
<circle cx="1027.7" cy="359.7" r="6.7"/>
<circle cx="1026.8" cy="362.5" r="6.7"/>
<circle cx="1027.4" cy="299.5" r="6.7"/>
<circle cx="1027.1" cy="366.7" r="6.7"/>
<circle cx="1027.7" cy="368.1" r="6.7"/>
<circle cx="1027.0" cy="295.4" r="6.7"/>
<circle cx="1027.6" cy="373.1" r="6.7"/>
<circle cx="1027.7" cy="375.3" r="6.7"/>
<circle cx="1027.1" cy="296.6" r="6.7"/>
<circle cx="1027.7" cy="379.5" r="6.7"/>
<circle cx="1027.3" cy="382.3" r="6.7"/>
<circle cx="1027.2" cy="310.2" r="6.7"/>
<circle cx="1026.9" cy="385.5" r="6.7"/>
<circle cx="1026.9" cy="388.2" r="6.7"/>
<circle cx="1026.8" cy="295.2" r="6.7"/>
<circle cx="1027.8" cy="392.2" r="6.7"/>
<circle cx="1027.7" cy="394.1" r="6.7"/>
<circle cx="1027.2" cy="314.0" r="6.7"/>
<circle cx="1027.0" cy="399.2" r="6.7"/>
<circle cx="1027.4" cy="400.7" r="6.7"/>
<circle cx="1027.2" cy="287.6" r="6.7"/>
<circle cx="1026.9" cy="405.4" r="6.7"/>
<circle cx="1027.1" cy="407.2" r="6.7"/>
<circle cx="1027.6" cy="323.7" r="6.7"/>
<circle cx="1027.7" cy="412.3" r="6.7"/>
<circle cx="1038.9" cy="211.7" r="6.7"/>
<circle cx="1039.3" cy="322.0" r="6.7"/>
<circle cx="1039.2" cy="216.0" r="6.7"/>
<circle cx="1038.7" cy="217.8" r="6.7"/>
<circle cx="1038.5" cy="313.4" r="6.7"/>
<circle cx="1039.3" cy="222.8" r="6.7"/>
<circle cx="1038.8" cy="225.0" r="6.7"/>
<circle cx="1039.1" cy="339.9" r="6.7"/>
<circle cx="1039.0" cy="228.5" r="6.7"/>
<circle cx="1039.3" cy="231.4" r="6.7"/>
<circle cx="1038.8" cy="300.6" r="6.7"/>
<circle cx="1039.0" cy="236.3" r="6.7"/>
<circle cx="1038.9" cy="237.9" r="6.7"/>
<circle cx="1038.9" cy="299.9" r="6.7"/>
<circle cx="1039.4" cy="242.3" r="6.7"/>
<circle cx="1039.2" cy="243.9" r="6.7"/>
<circle cx="1039.1" cy="286.2" r="6.7"/>
<circle cx="1038.8" cy="249.3" r="6.7"/>
<circle cx="1039.3" cy="251.9" r="6.7"/>
<circle cx="1038.4" cy="310.3" r="6.7"/>
<circle cx="1038.5" cy="255.4" r="6.7"/>
<circle cx="1039.3" cy="258.9" r="6.7"/>
<circle cx="1038.5" cy="290.4" r="6.7"/>
<circle cx="1039.0" cy="262.6" r="6.7"/>
<circle cx="1038.8" cy="263.7" r="6.7"/>
<circle cx="1038.7" cy="313.0" r="6.7"/>
<circle cx="1038.7" cy="269.5" r="6.7"/>
<circle cx="1038.8" cy="271.3" r="6.7"/>
<circle cx="1039.4" cy="293.4" r="6.7"/>
<circle cx="1039.2" cy="275.9" r="6.7"/>
<circle cx="1038.8" cy="278.2" r="6.7"/>
<circle cx="1039.1" cy="334.6" r="6.7"/>
<circle cx="1038.6" cy="281.8" r="6.7"/>
<circle cx="1039.2" cy="284.6" r="6.7"/>
<circle cx="1039.2" cy="308.3" r="6.7"/>
<circle cx="1038.5" cy="288.6" r="6.7"/>
<circle cx="1039.3" cy="291.1" r="6.7"/>
<circle cx="1038.6" cy="325.3" r="6.7"/>
<circle cx="1038.4" cy="295.1" r="6.7"/>
<circle cx="1038.8" cy="297.3" r="6.7"/>
<circle cx="1039.4" cy="332.7" r="6.7"/>
<circle cx="1038.6" cy="303.0" r="6.7"/>
<circle cx="1039.3" cy="303.9" r="6.7"/>
<circle cx="1038.8" cy="317.3" r="6.7"/>
<circle cx="1038.7" cy="307.9" r="6.7"/>
<circle cx="1038.8" cy="310.7" r="6.7"/>
<circle cx="1039.4" cy="324.9" r="6.7"/>
<circle cx="1038.6" cy="314.8" r="6.7"/>
<circle cx="1038.8" cy="318.3" r="6.7"/>
<circle cx="1039.2" cy="323.7" r="6.7"/>
<circle cx="1038.5" cy="321.6" r="6.7"/>
<circle cx="1038.9" cy="324.6" r="6.7"/>
<circle cx="1038.9" cy="296.4" r="6.7"/>
<circle cx="1039.1" cy="328.9" r="6.7"/>
<circle cx="1038.8" cy="330.3" r="6.7"/>
<circle cx="1038.7" cy="328.2" r="6.7"/>
<circle cx="1038.6" cy="335.4" r="6.7"/>
<circle cx="1038.4" cy="337.9" r="6.7"/>
<circle cx="1039.2" cy="304.9" r="6.7"/>
<circle cx="1038.7" cy="341.9" r="6.7"/>
<circle cx="1038.7" cy="344.8" r="6.7"/>
<circle cx="1038.9" cy="313.6" r="6.7"/>
<circle cx="1039.1" cy="348.9" r="6.7"/>
<circle cx="1039.2" cy="350.4" r="6.7"/>
<circle cx="1038.5" cy="318.6" r="6.7"/>
<circle cx="1039.0" cy="354.6" r="6.7"/>
<circle cx="1039.0" cy="358.1" r="6.7"/>
<circle cx="1038.8" cy="304.8" r="6.7"/>
<circle cx="1039.1" cy="362.5" r="6.7"/>
<circle cx="1038.8" cy="363.5" r="6.7"/>
<circle cx="1039.2" cy="290.9" r="6.7"/>
<circle cx="1038.6" cy="367.9" r="6.7"/>
<circle cx="1038.9" cy="371.2" r="6.7"/>
<circle cx="1039.3" cy="292.8" r="6.7"/>
<circle cx="1038.7" cy="374.1" r="6.7"/>
<circle cx="1038.8" cy="376.2" r="6.7"/>
<circle cx="1038.9" cy="310.6" r="6.7"/>
<circle cx="1039.1" cy="382.1" r="6.7"/>
<circle cx="1038.8" cy="383.8" r="6.7"/>
<circle cx="1039.2" cy="303.4" r="6.7"/>
<circle cx="1039.2" cy="388.6" r="6.7"/>
<circle cx="1039.1" cy="389.6" r="6.7"/>
<circle cx="1039.1" cy="308.4" r="6.7"/>
<circle cx="1039.3" cy="394.7" r="6.7"/>
<circle cx="1039.1" cy="397.7" r="6.7"/>
<circle cx="1039.3" cy="322.0" r="6.7"/>
<circle cx="1039.1" cy="400.5" r="6.7"/>
<circle cx="1039.0" cy="403.9" r="6.7"/>
<circle cx="1038.7" cy="295.2" r="6.7"/>
<circle cx="1039.0" cy="407.0" r="6.7"/>
<circle cx="1038.7" cy="410.7" r="6.7"/>
<circle cx="1038.5" cy="315.6" r="6.7"/>
<circle cx="1051.0" cy="151.7" r="6.7"/>
<circle cx="1050.4" cy="159.6" r="6.7"/>
<circle cx="1050.1" cy="165.3" r="6.7"/>
<circle cx="1050.6" cy="191.9" r="6.7"/>
<circle cx="1050.0" cy="303.5" r="6.7"/>
<circle cx="1050.5" cy="197.0" r="6.7"/>
<circle cx="1050.3" cy="199.5" r="6.7"/>
<circle cx="1050.5" cy="319.6" r="6.7"/>
<circle cx="1050.6" cy="204.1" r="6.7"/>
<circle cx="1050.3" cy="208.0" r="6.7"/>
<circle cx="1051.0" cy="287.2" r="6.7"/>
<circle cx="1050.7" cy="212.7" r="6.7"/>
<circle cx="1050.2" cy="214.4" r="6.7"/>
<circle cx="1050.4" cy="299.6" r="6.7"/>
<circle cx="1050.3" cy="221.3" r="6.7"/>
<circle cx="1050.1" cy="221.9" r="6.7"/>
<circle cx="1050.4" cy="289.8" r="6.7"/>
<circle cx="1050.4" cy="229.1" r="6.7"/>
<circle cx="1050.9" cy="231.0" r="6.7"/>
<circle cx="1050.5" cy="305.5" r="6.7"/>
<circle cx="1050.2" cy="236.2" r="6.7"/>
<circle cx="1050.6" cy="238.8" r="6.7"/>
<circle cx="1050.4" cy="299.9" r="6.7"/>
<circle cx="1050.9" cy="244.7" r="6.7"/>
<circle cx="1050.2" cy="246.5" r="6.7"/>
<circle cx="1050.2" cy="293.3" r="6.7"/>
<circle cx="1050.1" cy="252.0" r="6.7"/>
<circle cx="1050.0" cy="254.9" r="6.7"/>
<circle cx="1050.8" cy="293.7" r="6.7"/>
<circle cx="1050.7" cy="259.9" r="6.7"/>
<circle cx="1050.2" cy="262.4" r="6.7"/>
<circle cx="1050.3" cy="297.5" r="6.7"/>
<circle cx="1050.0" cy="267.7" r="6.7"/>
<circle cx="1050.6" cy="270.1" r="6.7"/>
<circle cx="1050.0" cy="278.6" r="6.7"/>
<circle cx="1050.4" cy="274.4" r="6.7"/>
<circle cx="1050.6" cy="278.2" r="6.7"/>
<circle cx="1050.6" cy="296.6" r="6.7"/>
<circle cx="1050.6" cy="282.9" r="6.7"/>
<circle cx="1050.3" cy="284.7" r="6.7"/>
<circle cx="1050.1" cy="284.9" r="6.7"/>
<circle cx="1050.7" cy="290.9" r="6.7"/>
<circle cx="1050.0" cy="292.8" r="6.7"/>
<circle cx="1050.3" cy="293.0" r="6.7"/>
<circle cx="1050.4" cy="299.0" r="6.7"/>
<circle cx="1050.5" cy="301.6" r="6.7"/>
<circle cx="1050.1" cy="280.8" r="6.7"/>
<circle cx="1050.3" cy="305.6" r="6.7"/>
<circle cx="1051.0" cy="309.5" r="6.7"/>
<circle cx="1050.2" cy="303.7" r="6.7"/>
<circle cx="1050.3" cy="313.5" r="6.7"/>
<circle cx="1050.9" cy="316.7" r="6.7"/>
<circle cx="1050.2" cy="287.3" r="6.7"/>
<circle cx="1050.8" cy="321.0" r="6.7"/>
<circle cx="1050.8" cy="324.2" r="6.7"/>
<circle cx="1050.9" cy="296.0" r="6.7"/>
<circle cx="1050.1" cy="329.2" r="6.7"/>
<circle cx="1062.4" cy="185.5" r="6.7"/>
<circle cx="1062.1" cy="241.2" r="6.7"/>
<circle cx="1062.5" cy="188.8" r="6.7"/>
<circle cx="1061.7" cy="192.6" r="6.7"/>
<circle cx="1062.5" cy="212.0" r="6.7"/>
<circle cx="1062.2" cy="197.7" r="6.7"/>
<circle cx="1061.8" cy="199.6" r="6.7"/>
<circle cx="1062.5" cy="252.4" r="6.7"/>
<circle cx="1061.7" cy="205.2" r="6.7"/>
<circle cx="1061.7" cy="208.3" r="6.7"/>
<circle cx="1062.2" cy="222.3" r="6.7"/>
<circle cx="1062.3" cy="213.6" r="6.7"/>
<circle cx="1061.7" cy="215.8" r="6.7"/>
<circle cx="1062.3" cy="251.2" r="6.7"/>
<circle cx="1062.1" cy="220.1" r="6.7"/>
<circle cx="1062.3" cy="223.5" r="6.7"/>
<circle cx="1062.2" cy="216.9" r="6.7"/>
<circle cx="1062.1" cy="229.3" r="6.7"/>
<circle cx="1062.5" cy="230.7" r="6.7"/>
<circle cx="1062.2" cy="240.4" r="6.7"/>
<circle cx="1061.8" cy="235.7" r="6.7"/>
<circle cx="1061.8" cy="240.4" r="6.7"/>
<circle cx="1062.4" cy="204.0" r="6.7"/>
<circle cx="1062.3" cy="244.8" r="6.7"/>
<circle cx="1061.7" cy="246.0" r="6.7"/>
<circle cx="1062.6" cy="251.5" r="6.7"/>
<circle cx="1061.6" cy="253.0" r="6.7"/>
<circle cx="1061.8" cy="253.8" r="6.7"/>
<circle cx="1062.3" cy="225.5" r="6.7"/>
<circle cx="1062.2" cy="261.1" r="6.7"/>
<circle cx="1061.9" cy="263.7" r="6.7"/>
<circle cx="1061.8" cy="243.0" r="6.7"/>
<circle cx="1062.4" cy="266.8" r="6.7"/>
<circle cx="1062.6" cy="269.6" r="6.7"/>
<circle cx="1062.4" cy="216.9" r="6.7"/>
<circle cx="1062.1" cy="274.9" r="6.7"/>
<circle cx="1062.4" cy="277.4" r="6.7"/>
<circle cx="1062.5" cy="241.0" r="6.7"/>
<circle cx="1061.6" cy="284.5" r="6.7"/>
<circle cx="1062.2" cy="286.9" r="6.7"/>
<circle cx="1062.2" cy="224.1" r="6.7"/>
<circle cx="1062.4" cy="291.5" r="6.7"/>
<circle cx="1061.7" cy="292.9" r="6.7"/>
<circle cx="1062.1" cy="238.3" r="6.7"/>
<circle cx="1062.0" cy="298.6" r="6.7"/>
<circle cx="1062.3" cy="300.5" r="6.7"/>
<circle cx="1062.4" cy="238.5" r="6.7"/>
<circle cx="1061.7" cy="306.8" r="6.7"/>
<circle cx="1061.8" cy="309.9" r="6.7"/>
<circle cx="1062.0" cy="246.5" r="6.7"/>
<circle cx="1062.6" cy="313.8" r="6.7"/>
<circle cx="1062.0" cy="317.4" r="6.7"/>
<circle cx="1062.4" cy="233.0" r="6.7"/>
<circle cx="1061.7" cy="323.3" r="6.7"/>
<circle cx="1061.9" cy="324.8" r="6.7"/>
<circle cx="1062.4" cy="250.3" r="6.7"/>
<circle cx="1062.2" cy="329.5" r="6.7"/>
<circle cx="1062.4" cy="334.0" r="6.7"/>
<circle cx="1061.7" cy="222.9" r="6.7"/>
<circle cx="1062.2" cy="338.6" r="6.7"/>
<circle cx="1062.1" cy="340.7" r="6.7"/>
<circle cx="1062.0" cy="244.9" r="6.7"/>
<circle cx="1073.3" cy="197.1" r="6.7"/>
<circle cx="1073.3" cy="344.4" r="6.7"/>
<circle cx="1073.5" cy="202.1" r="6.7"/>
<circle cx="1073.3" cy="203.9" r="6.7"/>
<circle cx="1074.0" cy="287.4" r="6.7"/>
<circle cx="1073.2" cy="210.4" r="6.7"/>
<circle cx="1073.4" cy="211.9" r="6.7"/>
<circle cx="1073.9" cy="221.7" r="6.7"/>
<circle cx="1073.8" cy="217.3" r="6.7"/>
<circle cx="1074.0" cy="220.6" r="6.7"/>
<circle cx="1073.5" cy="223.1" r="6.7"/>
<circle cx="1073.2" cy="225.8" r="6.7"/>
<circle cx="1073.5" cy="227.8" r="6.7"/>
<circle cx="1074.0" cy="315.3" r="6.7"/>
<circle cx="1074.0" cy="231.7" r="6.7"/>
<circle cx="1073.5" cy="234.9" r="6.7"/>
<circle cx="1073.3" cy="292.7" r="6.7"/>
<circle cx="1073.2" cy="239.8" r="6.7"/>
<circle cx="1073.6" cy="244.0" r="6.7"/>
<circle cx="1073.3" cy="204.5" r="6.7"/>
<circle cx="1073.4" cy="248.3" r="6.7"/>
<circle cx="1073.9" cy="249.9" r="6.7"/>
<circle cx="1073.4" cy="212.2" r="6.7"/>
<circle cx="1074.1" cy="257.1" r="6.7"/>
<circle cx="1074.0" cy="258.8" r="6.7"/>
<circle cx="1073.4" cy="314.4" r="6.7"/>
<circle cx="1074.1" cy="264.5" r="6.7"/>
<circle cx="1073.6" cy="267.0" r="6.7"/>
<circle cx="1073.3" cy="286.5" r="6.7"/>
<circle cx="1073.8" cy="272.7" r="6.7"/>
<circle cx="1073.4" cy="274.5" r="6.7"/>
<circle cx="1073.6" cy="215.9" r="6.7"/>
<circle cx="1074.2" cy="279.0" r="6.7"/>
<circle cx="1074.1" cy="281.0" r="6.7"/>
<circle cx="1073.8" cy="208.7" r="6.7"/>
<circle cx="1073.9" cy="287.4" r="6.7"/>
<circle cx="1073.3" cy="290.3" r="6.7"/>
<circle cx="1073.6" cy="330.2" r="6.7"/>
<circle cx="1073.9" cy="293.9" r="6.7"/>
<circle cx="1073.3" cy="297.6" r="6.7"/>
<circle cx="1073.3" cy="295.9" r="6.7"/>
<circle cx="1073.9" cy="302.8" r="6.7"/>
<circle cx="1073.7" cy="305.6" r="6.7"/>
<circle cx="1073.7" cy="225.9" r="6.7"/>
<circle cx="1073.5" cy="311.4" r="6.7"/>
<circle cx="1073.9" cy="312.8" r="6.7"/>
<circle cx="1073.4" cy="200.7" r="6.7"/>
<circle cx="1074.1" cy="319.3" r="6.7"/>
<circle cx="1073.7" cy="321.6" r="6.7"/>
<circle cx="1073.6" cy="322.5" r="6.7"/>
<circle cx="1073.3" cy="326.6" r="6.7"/>
<circle cx="1073.6" cy="327.8" r="6.7"/>
<circle cx="1073.5" cy="299.4" r="6.7"/>
<circle cx="1074.1" cy="334.0" r="6.7"/>
<circle cx="1073.3" cy="335.3" r="6.7"/>
<circle cx="1073.5" cy="210.3" r="6.7"/>
<circle cx="1073.3" cy="340.9" r="6.7"/>
<circle cx="1074.0" cy="344.0" r="6.7"/>
<circle cx="1073.3" cy="201.4" r="6.7"/>
<circle cx="1073.3" cy="348.6" r="6.7"/>
<circle cx="1073.3" cy="352.0" r="6.7"/>
<circle cx="1074.1" cy="323.4" r="6.7"/>
<circle cx="1073.6" cy="358.0" r="6.7"/>
<circle cx="1073.4" cy="359.6" r="6.7"/>
<circle cx="1073.6" cy="300.5" r="6.7"/>
<circle cx="1073.6" cy="365.3" r="6.7"/>
<circle cx="1073.9" cy="366.5" r="6.7"/>
<circle cx="1085.5" cy="181.7" r="6.7"/>
<circle cx="1085.7" cy="314.3" r="6.7"/>
<circle cx="1085.7" cy="186.7" r="6.7"/>
<circle cx="1084.8" cy="189.5" r="6.7"/>
<circle cx="1084.9" cy="311.4" r="6.7"/>
<circle cx="1085.2" cy="195.4" r="6.7"/>
<circle cx="1085.3" cy="198.0" r="6.7"/>
<circle cx="1085.4" cy="290.6" r="6.7"/>
<circle cx="1085.2" cy="204.1" r="6.7"/>
<circle cx="1085.7" cy="206.9" r="6.7"/>
<circle cx="1085.7" cy="319.8" r="6.7"/>
<circle cx="1084.9" cy="212.4" r="6.7"/>
<circle cx="1085.1" cy="214.6" r="6.7"/>
<circle cx="1085.1" cy="287.7" r="6.7"/>
<circle cx="1085.3" cy="219.9" r="6.7"/>
<circle cx="1085.0" cy="223.8" r="6.7"/>
<circle cx="1085.4" cy="321.4" r="6.7"/>
<circle cx="1085.7" cy="230.7" r="6.7"/>
<circle cx="1084.9" cy="231.9" r="6.7"/>
<circle cx="1085.3" cy="292.9" r="6.7"/>
<circle cx="1085.1" cy="237.9" r="6.7"/>
<circle cx="1085.3" cy="239.7" r="6.7"/>
<circle cx="1085.3" cy="320.6" r="6.7"/>
<circle cx="1085.6" cy="247.4" r="6.7"/>
<circle cx="1085.6" cy="248.1" r="6.7"/>
<circle cx="1085.1" cy="292.9" r="6.7"/>
<circle cx="1084.9" cy="255.4" r="6.7"/>
<circle cx="1085.3" cy="258.0" r="6.7"/>
<circle cx="1085.1" cy="317.1" r="6.7"/>
<circle cx="1085.4" cy="263.1" r="6.7"/>
<circle cx="1085.7" cy="266.7" r="6.7"/>
<circle cx="1084.8" cy="284.3" r="6.7"/>
<circle cx="1085.6" cy="271.9" r="6.7"/>
<circle cx="1084.9" cy="274.8" r="6.7"/>
<circle cx="1085.2" cy="310.8" r="6.7"/>
<circle cx="1085.7" cy="279.7" r="6.7"/>
<circle cx="1084.9" cy="282.3" r="6.7"/>
<circle cx="1085.5" cy="309.3" r="6.7"/>
<circle cx="1084.8" cy="288.9" r="6.7"/>
<circle cx="1085.5" cy="291.1" r="6.7"/>
<circle cx="1085.3" cy="311.2" r="6.7"/>
<circle cx="1085.1" cy="297.7" r="6.7"/>
<circle cx="1085.6" cy="300.8" r="6.7"/>
<circle cx="1085.0" cy="293.1" r="6.7"/>
<circle cx="1084.8" cy="304.1" r="6.7"/>
<circle cx="1085.2" cy="307.2" r="6.7"/>
<circle cx="1085.3" cy="325.5" r="6.7"/>
<circle cx="1085.2" cy="312.6" r="6.7"/>
<circle cx="1085.6" cy="317.3" r="6.7"/>
<circle cx="1085.7" cy="292.7" r="6.7"/>
<circle cx="1085.3" cy="321.3" r="6.7"/>
<circle cx="1085.6" cy="324.4" r="6.7"/>
<circle cx="1085.1" cy="315.1" r="6.7"/>
<circle cx="1085.6" cy="331.7" r="6.7"/>
<circle cx="1085.0" cy="332.1" r="6.7"/>
<circle cx="1096.7" cy="207.0" r="6.7"/>
<circle cx="1097.1" cy="244.3" r="6.7"/>
<circle cx="1096.7" cy="211.7" r="6.7"/>
<circle cx="1097.4" cy="214.6" r="6.7"/>
<circle cx="1096.6" cy="256.0" r="6.7"/>
<circle cx="1096.9" cy="220.6" r="6.7"/>
<circle cx="1097.3" cy="224.7" r="6.7"/>
<circle cx="1096.6" cy="258.3" r="6.7"/>
<circle cx="1096.9" cy="230.7" r="6.7"/>
<circle cx="1097.3" cy="233.2" r="6.7"/>
<circle cx="1097.1" cy="255.2" r="6.7"/>
<circle cx="1097.4" cy="240.3" r="6.7"/>
<circle cx="1097.4" cy="241.7" r="6.7"/>
<circle cx="1097.3" cy="251.3" r="6.7"/>
<circle cx="1096.4" cy="247.2" r="6.7"/>
<circle cx="1096.7" cy="250.6" r="6.7"/>
<circle cx="1097.4" cy="254.6" r="6.7"/>
<circle cx="1096.8" cy="258.1" r="6.7"/>
<circle cx="1097.3" cy="260.2" r="6.7"/>
<circle cx="1096.9" cy="257.0" r="6.7"/>
<circle cx="1096.7" cy="265.0" r="6.7"/>
<circle cx="1097.0" cy="269.4" r="6.7"/>
<circle cx="1097.2" cy="243.3" r="6.7"/>
<circle cx="1097.4" cy="276.0" r="6.7"/>
<circle cx="1096.5" cy="277.1" r="6.7"/>
<circle cx="1096.6" cy="260.9" r="6.7"/>
<circle cx="1096.7" cy="284.4" r="6.7"/>
<circle cx="1096.8" cy="286.1" r="6.7"/>
<circle cx="1096.9" cy="247.6" r="6.7"/>
<circle cx="1096.5" cy="293.2" r="6.7"/>
<circle cx="1097.0" cy="296.4" r="6.7"/>
<circle cx="1097.2" cy="242.6" r="6.7"/>
<circle cx="1096.9" cy="300.3" r="6.7"/>
<circle cx="1097.1" cy="305.1" r="6.7"/>
<circle cx="1097.1" cy="255.2" r="6.7"/>
<circle cx="1097.4" cy="309.7" r="6.7"/>
<circle cx="1096.6" cy="314.3" r="6.7"/>
<circle cx="1096.6" cy="236.6" r="6.7"/>
<circle cx="1097.4" cy="319.2" r="6.7"/>
<circle cx="1096.6" cy="323.5" r="6.7"/>
<circle cx="1097.2" cy="261.0" r="6.7"/>
<circle cx="1097.1" cy="328.0" r="6.7"/>
<circle cx="1096.5" cy="331.3" r="6.7"/>
<circle cx="1108.6" cy="225.9" r="6.7"/>
<circle cx="1108.5" cy="229.0" r="6.7"/>
<circle cx="1108.6" cy="231.2" r="6.7"/>
<circle cx="1108.8" cy="234.8" r="6.7"/>
<circle cx="1108.3" cy="276.1" r="6.7"/>
<circle cx="1108.7" cy="243.3" r="6.7"/>
<circle cx="1108.8" cy="246.4" r="6.7"/>
<circle cx="1108.6" cy="231.9" r="6.7"/>
<circle cx="1108.6" cy="252.2" r="6.7"/>
<circle cx="1108.3" cy="255.5" r="6.7"/>
<circle cx="1108.6" cy="291.8" r="6.7"/>
<circle cx="1108.4" cy="264.3" r="6.7"/>
<circle cx="1108.7" cy="268.1" r="6.7"/>
<circle cx="1108.5" cy="237.8" r="6.7"/>
<circle cx="1108.8" cy="274.5" r="6.7"/>
<circle cx="1108.9" cy="276.1" r="6.7"/>
<circle cx="1108.6" cy="291.9" r="6.7"/>
<circle cx="1108.6" cy="284.3" r="6.7"/>
<circle cx="1108.8" cy="286.6" r="6.7"/>
<circle cx="1108.3" cy="238.1" r="6.7"/>
<circle cx="1108.2" cy="294.1" r="6.7"/>
<circle cx="1108.8" cy="299.9" r="6.7"/>
<circle cx="1108.3" cy="283.1" r="6.7"/>
<circle cx="1108.1" cy="304.2" r="6.7"/>
<circle cx="1108.2" cy="307.9" r="6.7"/>
<circle cx="1108.4" cy="232.0" r="6.7"/>
<circle cx="1108.8" cy="315.6" r="6.7"/>
<circle cx="1108.4" cy="321.0" r="6.7"/>
<circle cx="1108.9" cy="288.7" r="6.7"/>
<circle cx="1120.1" cy="207.3" r="6.7"/>
<circle cx="1119.9" cy="296.7" r="6.7"/>
<circle cx="1119.7" cy="302.4" r="6.7"/>
<circle cx="1119.8" cy="317.8" r="6.7"/>
<circle cx="1120.0" cy="323.3" r="6.7"/>
<circle cx="1131.5" cy="244.3" r="6.7"/>
<circle cx="1131.3" cy="323.2" r="6.7"/>
<circle cx="1131.4" cy="249.8" r="6.7"/>
<circle cx="1132.0" cy="253.1" r="6.7"/>
<circle cx="1132.0" cy="269.9" r="6.7"/>
<circle cx="1131.3" cy="257.7" r="6.7"/>
<circle cx="1131.8" cy="261.8" r="6.7"/>
<circle cx="1131.8" cy="302.7" r="6.7"/>
<circle cx="1131.9" cy="266.2" r="6.7"/>
<circle cx="1131.5" cy="269.5" r="6.7"/>
<circle cx="1131.7" cy="251.4" r="6.7"/>
<circle cx="1132.0" cy="276.2" r="6.7"/>
<circle cx="1132.0" cy="277.8" r="6.7"/>
<circle cx="1131.9" cy="319.2" r="6.7"/>
<circle cx="1131.8" cy="285.5" r="6.7"/>
<circle cx="1131.4" cy="289.0" r="6.7"/>
<circle cx="1131.5" cy="289.0" r="6.7"/>
<circle cx="1131.5" cy="294.3" r="6.7"/>
<circle cx="1131.5" cy="295.8" r="6.7"/>
<circle cx="1131.9" cy="301.1" r="6.7"/>
<circle cx="1132.0" cy="303.9" r="6.7"/>
<circle cx="1131.5" cy="305.1" r="6.7"/>
<circle cx="1132.0" cy="243.7" r="6.7"/>
<circle cx="1131.8" cy="310.3" r="6.7"/>
<circle cx="1131.3" cy="313.3" r="6.7"/>
<circle cx="1132.2" cy="311.7" r="6.7"/>
<circle cx="1131.7" cy="321.4" r="6.7"/>
<circle cx="1131.3" cy="322.5" r="6.7"/>
<circle cx="1131.8" cy="336.7" r="6.7"/>
<circle cx="1131.9" cy="341.9" r="6.7"/>
<circle cx="1132.0" cy="348.7" r="6.7"/>
<circle cx="1131.3" cy="352.4" r="6.7"/>
<circle cx="1131.7" cy="359.8" r="6.7"/>
<circle cx="1131.9" cy="365.0" r="6.7"/>
<circle cx="1131.5" cy="370.8" r="6.7"/>
<circle cx="1142.9" cy="238.7" r="6.7"/>
<circle cx="1143.6" cy="261.2" r="6.7"/>
<circle cx="1143.8" cy="245.4" r="6.7"/>
<circle cx="1143.7" cy="249.6" r="6.7"/>
<circle cx="1142.9" cy="271.3" r="6.7"/>
<circle cx="1142.9" cy="259.7" r="6.7"/>
<circle cx="1143.7" cy="263.7" r="6.7"/>
<circle cx="1143.5" cy="257.1" r="6.7"/>
<circle cx="1143.4" cy="270.7" r="6.7"/>
<circle cx="1155.2" cy="201.7" r="6.7"/>
<circle cx="1154.5" cy="243.3" r="6.7"/>
<circle cx="1155.0" cy="208.8" r="6.7"/>
<circle cx="1154.6" cy="215.4" r="6.7"/>
<circle cx="1154.6" cy="220.5" r="6.7"/>
<circle cx="1154.9" cy="223.5" r="6.7"/>
<circle cx="1154.6" cy="226.1" r="6.7"/>
<circle cx="1154.6" cy="242.6" r="6.7"/>
<circle cx="1155.2" cy="234.1" r="6.7"/>
<circle cx="1155.3" cy="240.6" r="6.7"/>
<circle cx="1154.9" cy="236.1" r="6.7"/>
<circle cx="1166.6" cy="267.8" r="6.7"/>
<circle cx="1166.5" cy="270.5" r="6.7"/>
<circle cx="1166.8" cy="277.3" r="6.7"/>
<circle cx="1178.5" cy="194.7" r="6.7"/>
<circle cx="1178.5" cy="245.1" r="6.7"/>
<circle cx="1178.6" cy="201.2" r="6.7"/>
<circle cx="1178.0" cy="204.0" r="6.7"/>
<circle cx="1178.4" cy="251.1" r="6.7"/>
<circle cx="1178.3" cy="210.6" r="6.7"/>
<circle cx="1177.7" cy="213.0" r="6.7"/>
<circle cx="1178.0" cy="239.3" r="6.7"/>
<circle cx="1177.9" cy="219.3" r="6.7"/>
<circle cx="1177.7" cy="220.3" r="6.7"/>
<circle cx="1178.6" cy="248.3" r="6.7"/>
<circle cx="1178.0" cy="226.8" r="6.7"/>
<circle cx="1178.6" cy="231.5" r="6.7"/>
<circle cx="1178.0" cy="224.1" r="6.7"/>
<circle cx="1178.6" cy="235.9" r="6.7"/>
<circle cx="1178.3" cy="238.1" r="6.7"/>
<circle cx="1178.4" cy="265.8" r="6.7"/>
<circle cx="1178.2" cy="246.1" r="6.7"/>
<circle cx="1178.5" cy="249.5" r="6.7"/>
<circle cx="1178.5" cy="227.2" r="6.7"/>
<circle cx="1177.8" cy="253.5" r="6.7"/>
<circle cx="1178.2" cy="256.8" r="6.7"/>
<circle cx="1178.0" cy="244.9" r="6.7"/>
<circle cx="1178.0" cy="263.1" r="6.7"/>
<circle cx="1178.4" cy="265.6" r="6.7"/>
<circle cx="1213.1" cy="197.1" r="6.7"/>
<circle cx="1213.0" cy="217.3" r="6.7"/>
<circle cx="1212.8" cy="201.8" r="6.7"/>
<circle cx="1213.2" cy="205.1" r="6.7"/>
<circle cx="1213.3" cy="217.3" r="6.7"/>
<circle cx="1212.8" cy="208.9" r="6.7"/>
<circle cx="1212.6" cy="211.6" r="6.7"/>
<circle cx="1213.3" cy="214.7" r="6.7"/>
<circle cx="1212.5" cy="216.7" r="6.7"/>
<circle cx="1224.5" cy="196.7" r="6.7"/>
<circle cx="1224.4" cy="233.9" r="6.7"/>
<circle cx="1225.0" cy="202.9" r="6.7"/>
<circle cx="1224.4" cy="205.6" r="6.7"/>
<circle cx="1224.8" cy="210.0" r="6.7"/>
<circle cx="1225.0" cy="210.8" r="6.7"/>
<circle cx="1225.1" cy="214.4" r="6.7"/>
<circle cx="1225.0" cy="237.3" r="6.7"/>
<circle cx="1224.5" cy="218.7" r="6.7"/>
<circle cx="1225.0" cy="221.5" r="6.7"/>
<circle cx="1224.6" cy="217.5" r="6.7"/>
<circle cx="1224.7" cy="229.8" r="6.7"/>
<circle cx="1224.7" cy="232.5" r="6.7"/>
<circle cx="1224.6" cy="237.3" r="6.7"/>
<circle cx="1224.6" cy="237.2" r="6.7"/>
<circle cx="1236.5" cy="177.8" r="6.7"/>
<circle cx="1236.4" cy="177.2" r="6.7"/>
<circle cx="1235.9" cy="182.1" r="6.7"/>
<circle cx="1236.7" cy="184.4" r="6.7"/>
<circle cx="1236.1" cy="214.8" r="6.7"/>
<circle cx="1236.4" cy="187.7" r="6.7"/>
<circle cx="1235.9" cy="190.9" r="6.7"/>
<circle cx="1236.4" cy="178.5" r="6.7"/>
<circle cx="1236.2" cy="193.8" r="6.7"/>
<circle cx="1236.3" cy="196.5" r="6.7"/>
<circle cx="1235.8" cy="217.5" r="6.7"/>
<circle cx="1236.7" cy="201.7" r="6.7"/>
<circle cx="1236.5" cy="203.1" r="6.7"/>
<circle cx="1236.2" cy="190.5" r="6.7"/>
<circle cx="1236.5" cy="207.8" r="6.7"/>
<circle cx="1236.6" cy="209.1" r="6.7"/>
<circle cx="1235.9" cy="222.3" r="6.7"/>
<circle cx="1236.2" cy="212.8" r="6.7"/>
<circle cx="1236.6" cy="216.6" r="6.7"/>
<circle cx="1236.6" cy="193.1" r="6.7"/>
<circle cx="1235.8" cy="220.3" r="6.7"/>
<circle cx="1236.5" cy="222.3" r="6.7"/>
<circle cx="1248.1" cy="177.2" r="6.7"/>
<circle cx="1248.1" cy="197.6" r="6.7"/>
<circle cx="1247.4" cy="182.5" r="6.7"/>
<circle cx="1247.8" cy="184.5" r="6.7"/>
<circle cx="1247.5" cy="201.9" r="6.7"/>
<circle cx="1248.2" cy="187.8" r="6.7"/>
<circle cx="1248.0" cy="191.6" r="6.7"/>
<circle cx="1247.4" cy="214.7" r="6.7"/>
<circle cx="1247.9" cy="195.1" r="6.7"/>
<circle cx="1248.1" cy="196.8" r="6.7"/>
<circle cx="1247.8" cy="191.8" r="6.7"/>
<circle cx="1248.1" cy="200.9" r="6.7"/>
<circle cx="1248.2" cy="204.8" r="6.7"/>
<circle cx="1247.8" cy="204.5" r="6.7"/>
<circle cx="1247.6" cy="208.4" r="6.7"/>
<circle cx="1247.5" cy="210.2" r="6.7"/>
<circle cx="1248.0" cy="192.4" r="6.7"/>
<circle cx="1247.5" cy="215.3" r="6.7"/>
<circle cx="1259.2" cy="178.7" r="6.7"/>
<circle cx="1259.2" cy="180.8" r="6.7"/>
<circle cx="1259.3" cy="184.3" r="6.7"/>
<circle cx="1271.0" cy="186.5" r="6.7"/>
<circle cx="1271.1" cy="228.7" r="6.7"/>
</g>
<g fill="none" stroke="#000" stroke-opacity="0.07" stroke-width="2.3">
<circle cx="632.5" cy="663.8" r="6.7"/>
<circle cx="632.7" cy="668.2" r="6.7"/>
<circle cx="656.4" cy="566.7" r="6.7"/>
<circle cx="655.7" cy="573.6" r="6.7"/>
<circle cx="655.4" cy="590.2" r="6.7"/>
<circle cx="656.4" cy="597.3" r="6.7"/>
<circle cx="655.7" cy="631.7" r="6.7"/>
<circle cx="655.7" cy="647.9" r="6.7"/>
<circle cx="656.0" cy="656.5" r="6.7"/>
<circle cx="655.8" cy="663.0" r="6.7"/>
<circle cx="655.5" cy="682.5" r="6.7"/>
<circle cx="656.3" cy="689.5" r="6.7"/>
<circle cx="655.5" cy="705.3" r="6.7"/>
<circle cx="655.8" cy="767.7" r="6.7"/>
<circle cx="667.8" cy="525.0" r="6.7"/>
<circle cx="667.4" cy="533.3" r="6.7"/>
<circle cx="667.9" cy="569.5" r="6.7"/>
<circle cx="667.2" cy="573.2" r="6.7"/>
<circle cx="667.5" cy="584.0" r="6.7"/>
<circle cx="667.2" cy="592.9" r="6.7"/>
<circle cx="667.8" cy="600.8" r="6.7"/>
<circle cx="667.1" cy="615.1" r="6.7"/>
<circle cx="667.8" cy="621.4" r="6.7"/>
<circle cx="667.9" cy="626.2" r="6.7"/>
<circle cx="667.6" cy="635.9" r="6.7"/>
<circle cx="667.7" cy="648.4" r="6.7"/>
<circle cx="667.5" cy="655.4" r="6.7"/>
<circle cx="667.5" cy="666.7" r="6.7"/>
<circle cx="667.5" cy="676.4" r="6.7"/>
<circle cx="667.1" cy="683.6" r="6.7"/>
<circle cx="667.5" cy="694.1" r="6.7"/>
<circle cx="667.8" cy="700.0" r="6.7"/>
<circle cx="667.5" cy="713.5" r="6.7"/>
<circle cx="667.5" cy="717.6" r="6.7"/>
<circle cx="667.2" cy="726.1" r="6.7"/>
<circle cx="667.1" cy="737.7" r="6.7"/>
<circle cx="679.5" cy="637.7" r="6.7"/>
<circle cx="679.1" cy="643.8" r="6.7"/>
<circle cx="678.8" cy="658.0" r="6.7"/>
<circle cx="679.1" cy="661.9" r="6.7"/>
<circle cx="678.7" cy="671.0" r="6.7"/>
</g>
<g fill="#F28021" stroke="#F28021" stroke-width="4.7">
<path d="M308.3 470.4V529.0M298.3 470.4H318.3M298.3 529.0H318.3"/>
<rect x="301.3" y="492.6" width="14.0" height="14.0" stroke="none"/>
<path d="M319.8 524.6V536.0M315.3 524.6H324.3M315.3 536.0H324.3"/>
<rect x="312.8" y="523.3" width="14.0" height="14.0" stroke="none"/>
<path d="M331.6 476.5V488.3M321.6 476.5H341.6M321.6 488.3H341.6"/>
<rect x="324.6" y="475.5" width="14.0" height="14.0" stroke="none"/>
<path d="M342.4 501.9V517.5M332.4 501.9H352.4M332.4 517.5H352.4"/>
<rect x="335.4" y="502.6" width="14.0" height="14.0" stroke="none"/>
<path d="M446.9 387.0V425.7M436.9 387.0H456.9M436.9 425.7H456.9"/>
<rect x="439.9" y="399.4" width="14.0" height="14.0" stroke="none"/>
<rect x="488.1" y="513.0" width="14.0" height="14.0" stroke="none"/>
<path d="M505.4 501.7V515.4M495.4 501.7H515.4M495.4 515.4H515.4"/>
<rect x="498.4" y="501.8" width="14.0" height="14.0" stroke="none"/>
<rect x="510.7" y="492.7" width="14.0" height="14.0" stroke="none"/>
<rect x="522.0" y="472.4" width="14.0" height="14.0" stroke="none"/>
<path d="M550.8 328.7V362.3M540.8 328.7H560.8M540.8 362.3H560.8"/>
<rect x="543.8" y="339.0" width="14.0" height="14.0" stroke="none"/>
<rect x="602.7" y="496.0" width="14.0" height="14.0" stroke="none"/>
<rect x="613.0" y="327.0" width="14.0" height="14.0" stroke="none"/>
<path d="M632.3 328.5V470.5M622.3 328.5H642.3M622.3 470.5H642.3"/>
<rect x="625.3" y="393.0" width="14.0" height="14.0" stroke="none"/>
<path d="M642.3 344.4V403.0M632.3 344.4H652.3M632.3 403.0H652.3"/>
<rect x="635.3" y="369.5" width="14.0" height="14.0" stroke="none"/>
<rect x="638.2" y="370.2" width="14.0" height="14.0" stroke="none"/>
<path d="M656.2 265.2V520.0M646.2 265.2H666.2M646.2 520.0H666.2"/>
<rect x="649.2" y="386.5" width="14.0" height="14.0" stroke="none"/>
<path d="M667.0 371.0V463.0M657.0 371.0H677.0M657.0 463.0H677.0"/>
<rect x="660.0" y="410.0" width="14.0" height="14.0" stroke="none"/>
<path d="M679.3 344.4V501.7M669.3 344.4H689.3M669.3 501.7H689.3"/>
<rect x="672.3" y="416.0" width="14.0" height="14.0" stroke="none"/>
<path d="M701.5 384.7V400.8M691.5 384.7H711.5M691.5 400.8H711.5"/>
<rect x="694.5" y="385.9" width="14.0" height="14.0" stroke="none"/>
<path d="M737.3 486.0V492.2M728.0 486.0H746.5M728.0 492.2H746.5"/>
<rect x="730.3" y="482.1" width="14.0" height="14.0" stroke="none"/>
<rect x="741.4" y="454.2" width="14.0" height="14.0" stroke="none"/>
<path d="M760.4 490.8V501.6M755.4 490.8H765.4M755.4 501.6H765.4"/>
<rect x="753.4" y="489.2" width="14.0" height="14.0" stroke="none"/>
<path d="M772.3 409.4V417.4M762.3 409.4H782.3M762.3 417.4H782.3"/>
<rect x="765.3" y="406.4" width="14.0" height="14.0" stroke="none"/>
<path d="M783.5 487.6V493.8M775.0 487.6H792.0M775.0 493.8H792.0"/>
<rect x="776.5" y="483.7" width="14.0" height="14.0" stroke="none"/>
<path d="M795.4 466.8V473.2M786.6 466.8H804.1M786.6 473.2H804.1"/>
<rect x="788.4" y="463.0" width="14.0" height="14.0" stroke="none"/>
<rect x="799.0" y="443.0" width="14.0" height="14.0" stroke="none"/>
<rect x="811.5" y="435.5" width="14.0" height="14.0" stroke="none"/>
<path d="M829.8 363.7V378.3M819.8 363.7H839.8M819.8 378.3H839.8"/>
<rect x="822.8" y="364.0" width="14.0" height="14.0" stroke="none"/>
<path d="M842.3 389.4V409.8M832.3 389.4H852.3M832.3 409.8H852.3"/>
<rect x="835.3" y="392.6" width="14.0" height="14.0" stroke="none"/>
<path d="M853.2 358.3V396.5M843.2 358.3H863.2M843.2 396.5H863.2"/>
<rect x="846.2" y="370.4" width="14.0" height="14.0" stroke="none"/>
<path d="M864.5 348.6V436.5M854.5 348.6H874.5M854.5 436.5H874.5"/>
<rect x="857.5" y="385.5" width="14.0" height="14.0" stroke="none"/>
<path d="M877.0 328.6V408.0M867.0 328.6H887.0M867.0 408.0H887.0"/>
<rect x="870.0" y="361.3" width="14.0" height="14.0" stroke="none"/>
<path d="M888.0 256.8V407.0M878.0 256.8H898.0M878.0 407.0H898.0"/>
<rect x="881.0" y="327.6" width="14.0" height="14.0" stroke="none"/>
<path d="M900.5 339.2V363.7M890.5 339.2H910.5M890.5 363.7H910.5"/>
<rect x="893.5" y="344.9" width="14.0" height="14.0" stroke="none"/>
<rect x="903.8" y="406.8" width="14.0" height="14.0" stroke="none"/>
<path d="M923.0 278.8V311.4M913.0 278.8H933.0M913.0 311.4H933.0"/>
<rect x="916.0" y="288.0" width="14.0" height="14.0" stroke="none"/>
<path d="M934.4 308.0V403.0M924.4 308.0H944.4M924.4 403.0H944.4"/>
<rect x="927.4" y="349.0" width="14.0" height="14.0" stroke="none"/>
<path d="M946.0 267.8V318.5M936.0 267.8H956.0M936.0 318.5H956.0"/>
<rect x="939.0" y="286.0" width="14.0" height="14.0" stroke="none"/>
<path d="M958.0 225.0V258.0M948.0 225.0H968.0M948.0 258.0H968.0"/>
<rect x="951.0" y="234.3" width="14.0" height="14.0" stroke="none"/>
<path d="M969.0 255.0V310.0M959.0 255.0H979.0M959.0 310.0H979.0"/>
<rect x="962.0" y="275.5" width="14.0" height="14.0" stroke="none"/>
<path d="M980.5 268.8V386.5M970.5 268.8H990.5M970.5 386.5H990.5"/>
<rect x="973.5" y="321.0" width="14.0" height="14.0" stroke="none"/>
<path d="M992.6 315.0V355.0M982.6 315.0H1002.6M982.6 355.0H1002.6"/>
<rect x="985.6" y="328.0" width="14.0" height="14.0" stroke="none"/>
<path d="M1005.0 290.0V352.7M995.0 290.0H1015.0M995.0 352.7H1015.0"/>
<rect x="998.0" y="315.0" width="14.0" height="14.0" stroke="none"/>
<path d="M1016.4 290.0V337.7M1006.4 290.0H1026.4M1006.4 337.7H1026.4"/>
<rect x="1009.4" y="307.0" width="14.0" height="14.0" stroke="none"/>
<path d="M1026.5 218.5V337.7M1016.5 218.5H1036.5M1016.5 337.7H1036.5"/>
<rect x="1019.5" y="271.0" width="14.0" height="14.0" stroke="none"/>
<path d="M1039.0 266.0V342.8M1029.0 266.0H1049.0M1029.0 342.8H1049.0"/>
<rect x="1032.0" y="297.0" width="14.0" height="14.0" stroke="none"/>
<path d="M1050.5 242.0V308.0M1040.5 242.0H1060.5M1040.5 308.0H1060.5"/>
<rect x="1043.5" y="268.0" width="14.0" height="14.0" stroke="none"/>
<path d="M1062.5 251.4V290.0M1052.5 251.4H1072.5M1052.5 290.0H1072.5"/>
<rect x="1055.5" y="264.0" width="14.0" height="14.0" stroke="none"/>
<path d="M1073.8 256.0V314.0M1063.8 256.0H1083.8M1063.8 314.0H1083.8"/>
<rect x="1066.8" y="278.0" width="14.0" height="14.0" stroke="none"/>
<path d="M1085.0 237.6V327.7M1075.0 237.6H1095.0M1075.0 327.7H1095.0"/>
<rect x="1078.0" y="275.7" width="14.0" height="14.0" stroke="none"/>
<path d="M1097.6 237.6V319.0M1087.6 237.6H1107.6M1087.6 319.0H1107.6"/>
<rect x="1090.6" y="270.7" width="14.0" height="14.0" stroke="none"/>
<path d="M1110.0 237.6V295.0M1100.0 237.6H1120.0M1100.0 295.0H1120.0"/>
<rect x="1103.0" y="259.4" width="14.0" height="14.0" stroke="none"/>
<path d="M1120.0 302.0V318.0M1110.0 302.0H1130.0M1110.0 318.0H1130.0"/>
<rect x="1113.0" y="303.0" width="14.0" height="14.0" stroke="none"/>
<path d="M1131.4 253.9V330.2M1121.4 253.9H1141.4M1121.4 330.2H1141.4"/>
<rect x="1124.4" y="285.7" width="14.0" height="14.0" stroke="none"/>
<path d="M1144.0 244.0V256.0M1134.0 244.0H1154.0M1134.0 256.0H1154.0"/>
<rect x="1137.0" y="243.0" width="14.0" height="14.0" stroke="none"/>
<path d="M1156.4 200.0V243.0M1146.4 200.0H1166.4M1146.4 243.0H1166.4"/>
<rect x="1149.4" y="215.6" width="14.0" height="14.0" stroke="none"/>
<path d="M1166.5 264.3V275.7M1162.0 264.3H1171.0M1162.0 275.7H1171.0"/>
<rect x="1159.5" y="263.0" width="14.0" height="14.0" stroke="none"/>
<path d="M1179.0 207.6V240.4M1169.0 207.6H1189.0M1169.0 240.4H1189.0"/>
<rect x="1172.0" y="216.8" width="14.0" height="14.0" stroke="none"/>
<rect x="1204.4" y="197.6" width="14.0" height="14.0" stroke="none"/>
<rect x="1220.0" y="204.5" width="14.0" height="14.0" stroke="none"/>
<rect x="1231.7" y="196.3" width="14.0" height="14.0" stroke="none"/>
<rect x="1244.0" y="188.0" width="14.0" height="14.0" stroke="none"/>
<rect x="1252.2" y="171.7" width="14.0" height="14.0" stroke="none"/>
<path d="M1271.8 175.3V216.2M1261.8 175.3H1281.8M1261.8 216.2H1281.8"/>
<rect x="1264.8" y="190.4" width="14.0" height="14.0" stroke="none"/>
<rect x="1264.8" y="174.0" width="14.0" height="14.0" stroke="none"/>
</g>
<polyline points="134.4,372.1 144.8,373.9 166.9,375.8 191.5,379.0 202.6,380.7 224.7,382.7 237.0,383.2 260.3,386.9 275.1,391.8 292.3,395.0 307.1,400.4 339.0,407.1 353.8,412.0 376.0,416.9 410.4,424.3 422.7,426.2 437.4,431.2 454.6,434.1 491.5,440.3 503.8,440.3 528.4,445.2 550.5,449.4 562.8,450.1 587.4,453.8 599.7,454.3 616.9,457.5 634.1,459.2 658.7,459.9 666.1,461.2 688.2,461.2 701.8,463.6 710.4,460.7 725.1,455.0 740.0,451.4 755.7,446.6 771.4,440.1 792.3,436.2 815.9,427.8 844.6,420.5 876.0,411.3 907.4,400.1 923.1,396.9 949.3,389.1 975.4,381.2 1001.6,376.0 1027.7,369.5 1047.3,364.4 1074.6,357.5 1101.9,348.0 1129.2,342.5 1156.5,335.7 1183.9,328.9 1211.2,322.0 1238.5,316.0 1265.8,311.1 1279.4,307.0 1293.6,304.3" fill="none" stroke="#B34FA4" stroke-width="4.7" stroke-linejoin="round"/>
<polyline points="134.4,371.6 144.8,371.6 166.9,375.3 179.2,375.3 191.5,377.8 202.6,377.8 213.6,380.3 224.7,380.3 237.0,382.2 248.0,382.2 261.6,384.4 275.1,389.4 307.1,396.0 339.0,402.1 376.0,409.0 410.4,415.9 422.7,415.9 444.8,421.3 459.5,420.6 471.8,423.0 491.5,423.0 503.8,425.5 587.4,425.5 599.7,423.0 624.3,422.3 641.5,419.4 666.1,416.4 688.2,412.0 710.4,408.3 725.1,400.9 740.0,391.7 771.4,372.1 784.5,368.2 808.0,355.1 818.5,351.2 840.7,338.1 852.5,332.9 865.6,325.0 886.5,317.2 902.2,309.3 923.1,301.5 938.8,293.6 962.3,284.5 988.5,274.0 1014.7,263.5 1040.0,254.4 1047.3,251.0 1074.6,240.1 1107.4,229.2 1134.7,221.5 1162.0,212.8 1194.8,203.2 1227.5,195.1 1254.8,185.5 1276.7,180.0 1293.6,175.9" fill="none" stroke="#3450A2" stroke-width="4.7" stroke-linejoin="round"/>
<g stroke="#000" stroke-width="2.5" fill="none">
<rect x="133.7" y="17.7" width="1160.5" height="758.7"/>
<path d="M133.7 776.4H125.7"/>
<path d="M133.7 724.8H117.0"/>
<path d="M133.7 674.6H125.7"/>
<path d="M133.7 624.4H117.0"/>
<path d="M133.7 574.1H125.7"/>
<path d="M133.7 523.8H117.0"/>
<path d="M133.7 473.3H125.7"/>
<path d="M133.7 422.9H117.0"/>
<path d="M133.7 372.3H125.7"/>
<path d="M133.7 321.7H117.0"/>
<path d="M133.7 270.4H125.7"/>
<path d="M133.7 220.2H117.0"/>
<path d="M133.7 169.6H125.7"/>
<path d="M133.7 119.0H117.0"/>
<path d="M133.7 68.3H125.7"/>
<path d="M133.7 17.7H117.0"/>
<path d="M133.7 776.4V784.4"/>
<path d="M248.2 776.4V790.8"/>
<path d="M365.0 776.4V784.4"/>
<path d="M481.7 776.4V790.8"/>
<path d="M598.3 776.4V784.4"/>
<path d="M714.9 776.4V790.8"/>
<path d="M830.6 776.4V784.4"/>
<path d="M946.3 776.4V790.8"/>
<path d="M1063.0 776.4V784.4"/>
<path d="M1179.7 776.4V790.8"/>
<path d="M1294.2 776.4V784.4"/>
</g>
<g font-size="31.6" fill="#000">
<text x="107.6" y="734.0" text-anchor="end">260</text>
<text x="107.6" y="633.6" text-anchor="end">280</text>
<text x="107.6" y="533.0" text-anchor="end">300</text>
<text x="107.6" y="432.1" text-anchor="end">320</text>
<text x="107.6" y="330.9" text-anchor="end">340</text>
<text x="107.6" y="229.4" text-anchor="end">360</text>
<text x="107.6" y="128.2" text-anchor="end">380</text>
<text x="107.6" y="26.9" text-anchor="end">400</text>
<text x="248.7" y="826" text-anchor="middle">-40</text>
<text x="481.0" y="826" text-anchor="middle">-20</text>
<text x="714.6" y="826" text-anchor="middle">0</text>
<text x="945.6" y="826" text-anchor="middle">20</text>
<text x="1179.0" y="826" text-anchor="middle">40</text>
</g>
<text x="650.2" y="866.4" font-size="38" letter-spacing="0.6" fill="#000">DSR (d)</text>
<text transform="translate(33,507) rotate(-90)" font-size="38" letter-spacing="0.5" fill="#000"><tspan font-style="italic">p</tspan>CO<tspan font-size="25" dy="9.5">2</tspan><tspan dy="-9.5"> (µatm)</tspan></text>
<path d="M134 68.2H1301" stroke="#C1C1C1" stroke-width="4.8" stroke-dasharray="22 2.8 10.8 4.6 10.8 6.4" fill="none"/>
<path d="M713 13.4V771.4" stroke="#C1C1C1" stroke-width="4.8" stroke-dasharray="27 4.5 10.3 5.95" fill="none"/>
<text x="145.5" y="60.4" font-size="29" fill="#808080" textLength="304" lengthAdjust="spacingAndGlyphs">Air <tspan font-style="italic">p</tspan>CO<tspan font-size="19" dy="6">2</tspan><tspan dy="-6"> = 390 µatm)</tspan></text>
<text transform="translate(746,768.5) rotate(-90)" font-size="30.5" letter-spacing="0.3" fill="#BDBDBD">DSR = 0 d</text>
<g transform="translate(1090.5,151.2) rotate(-15.0)" font-size="27.8" fill="#3450A2">
<text x="0" y="0">Wind speed</text>
<text x="36.5" y="58.4">7 m s</text>
<text x="68" y="36.5">=</text>
<text x="104" y="38">-1</text>
</g>
<g transform="translate(1037,404.5) rotate(-13)" font-size="28" fill="#B34FA4">
<text x="0" y="0">Wind speed=4 m s<tspan dy="-16">-1</tspan></text>
</g>
</svg></body></html>
